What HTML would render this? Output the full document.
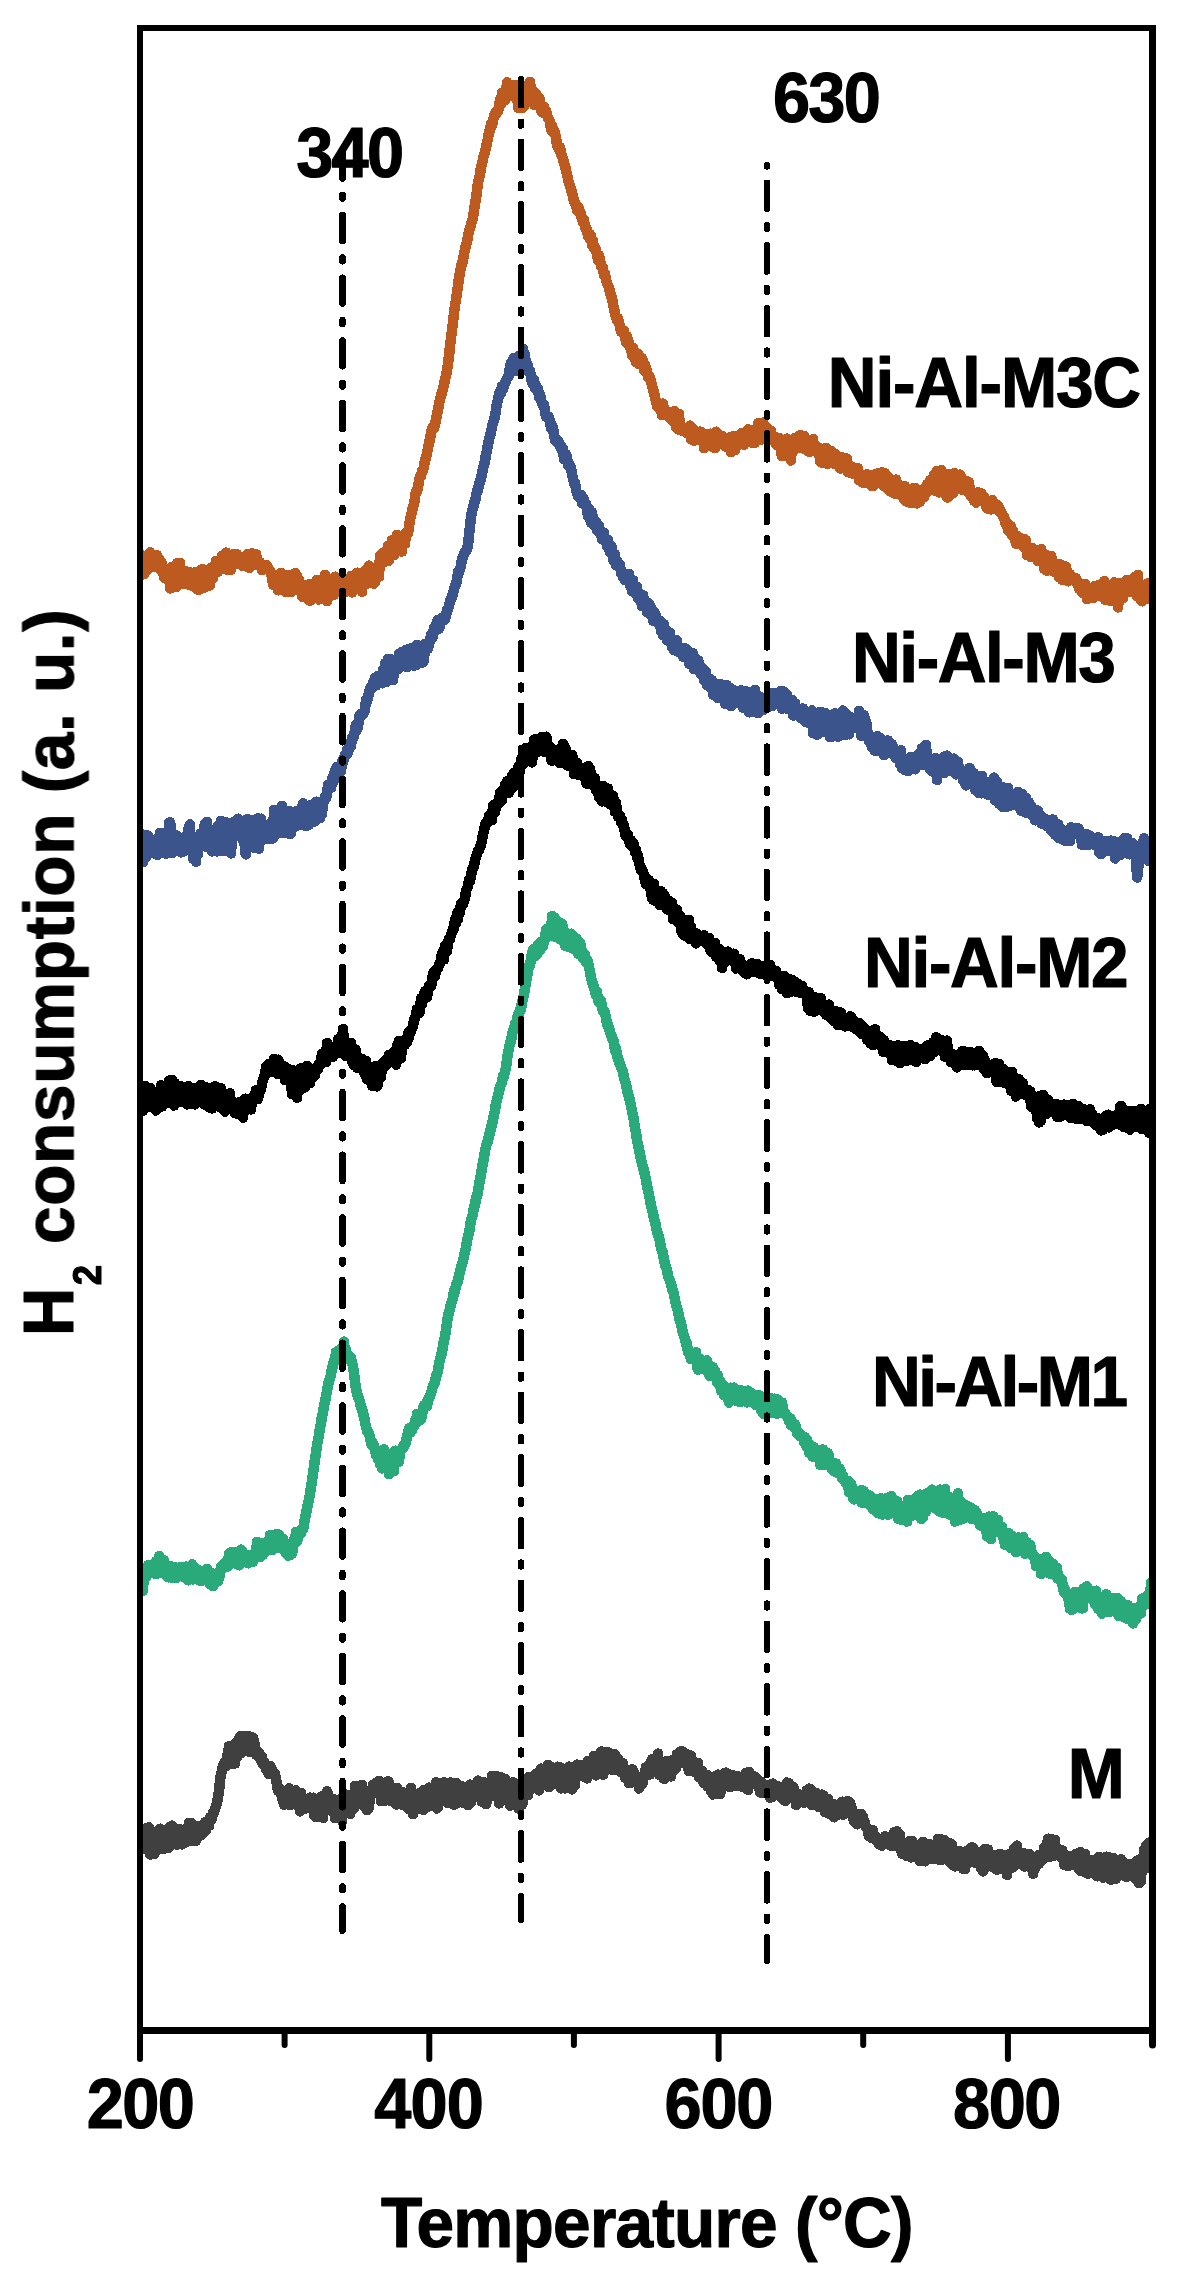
<!DOCTYPE html>
<html><head><meta charset="utf-8"><style>
html,body{margin:0;padding:0;background:#fff;width:1182px;height:2288px;overflow:hidden}
svg{display:block}
text{font-family:"Liberation Sans",sans-serif;font-weight:bold;fill:#000;stroke:#000;stroke-width:1.2px;stroke-linejoin:round}
</style></head><body>
<svg width="1182" height="2288" viewBox="0 0 1182 2288">
<defs><clipPath id="pc"><rect x="143" y="31" width="1006" height="1996"/></clipPath></defs>

<g clip-path="url(#pc)" fill="none" stroke-linejoin="round" stroke-linecap="round" shape-rendering="crispEdges">
<path d="M141 564.3 L142 574.7 L143 555.6 L144 574.1 L145 559.5 L146 561.9 L147 570.4 L148 561.0 L149 563.7 L150 552.4 L151 567.2 L152 562.4 L153 557.9 L154 567.1 L155 557.5 L156 560.8 L157 555.3 L158 561.3 L159 558.6 L160 560.8 L161 570.5 L162 563.5 L163 568.0 L164 577.5 L165 578.5 L166 576.1 L167 574.4 L168 570.5 L169 568.7 L170 588.5 L171 577.7 L172 566.9 L173 580.3 L174 584.1 L175 579.4 L176 587.1 L177 563.4 L178 576.1 L179 574.0 L180 563.2 L181 578.8 L182 584.2 L183 577.9 L184 570.5 L185 584.2 L186 577.4 L187 577.9 L188 583.3 L189 571.8 L190 585.2 L191 583.0 L192 585.5 L193 573.9 L194 586.7 L195 574.3 L196 572.0 L197 589.1 L198 589.5 L199 590.0 L200 580.8 L201 575.9 L202 569.1 L203 584.0 L204 585.3 L205 587.5 L206 573.4 L207 571.2 L208 580.6 L209 583.6 L210 585.4 L211 567.6 L212 572.8 L213 578.3 L214 569.1 L215 570.3 L216 560.8 L217 569.1 L218 571.8 L219 569.3 L220 569.5 L221 564.7 L222 555.8 L223 566.5 L224 554.7 L225 568.6 L226 552.6 L227 569.6 L228 556.2 L229 561.4 L230 560.6 L231 569.7 L232 557.8 L233 563.0 L234 553.8 L235 559.1 L236 561.6 L237 554.4 L238 563.7 L239 557.7 L240 563.8 L241 561.8 L242 557.1 L243 566.1 L244 561.3 L245 564.8 L246 555.9 L247 559.9 L248 553.9 L249 567.9 L250 555.5 L251 556.1 L252 553.3 L253 556.3 L254 565.2 L255 564.4 L256 554.2 L257 559.1 L258 560.3 L259 565.4 L260 562.1 L261 565.2 L262 570.1 L263 569.2 L264 565.0 L265 567.4 L266 567.6 L267 565.5 L268 567.8 L269 569.7 L270 571.1 L271 572.2 L272 577.2 L273 584.7 L274 582.9 L275 584.5 L276 585.1 L277 582.8 L278 590.3 L279 586.1 L280 582.4 L281 572.8 L282 583.0 L283 576.5 L284 574.6 L285 584.5 L286 592.0 L287 579.1 L288 591.0 L289 584.2 L290 574.8 L291 592.1 L292 579.0 L293 576.3 L294 587.2 L295 573.1 L296 585.6 L297 576.3 L298 581.2 L299 579.6 L300 591.5 L301 584.7 L302 596.6 L303 590.8 L304 592.8 L305 589.6 L306 585.5 L307 587.7 L308 599.4 L309 584.2 L310 600.8 L311 596.2 L312 588.1 L313 593.8 L314 588.5 L315 588.3 L316 590.5 L317 579.8 L318 589.5 L319 599.5 L320 583.9 L321 594.1 L322 586.7 L323 580.9 L324 597.8 L325 575.0 L326 582.1 L327 601.0 L328 580.3 L329 597.2 L330 590.1 L331 595.8 L332 590.9 L333 584.1 L334 594.6 L335 576.7 L336 587.4 L337 586.0 L338 588.6 L339 581.3 L340 583.3 L341 590.0 L342 586.1 L343 593.0 L344 588.8 L345 592.5 L346 589.6 L347 586.7 L348 581.0 L349 589.1 L350 579.7 L351 576.1 L352 592.5 L353 584.3 L354 588.9 L355 583.8 L356 585.4 L357 572.7 L358 575.7 L359 586.2 L360 583.6 L361 573.6 L362 591.7 L363 572.3 L364 580.3 L365 570.8 L366 584.2 L367 572.7 L368 568.5 L369 565.7 L370 568.1 L371 567.8 L372 575.4 L373 572.4 L374 583.7 L375 582.5 L376 577.6 L377 573.6 L378 576.3 L379 576.9 L380 555.6 L381 556.4 L382 560.1 L383 553.0 L384 562.4 L385 553.7 L386 552.4 L387 551.7 L388 546.0 L389 560.5 L390 557.4 L391 555.5 L392 540.1 L393 549.2 L394 554.9 L395 540.4 L396 545.4 L397 535.0 L398 535.9 L399 538.8 L400 543.1 L401 543.6 L402 551.5 L403 539.3 L404 534.4 L405 543.8 L406 533.9 L407 531.5 L408 533.0 L409 526.8 L410 520.2 L411 514.9 L412 511.5 L413 506.5 L414 504.2 L415 497.4 L416 491.4 L417 491.9 L418 486.8 L419 480.4 L420 477.2 L421 476.3 L422 470.9 L423 470.5 L424 466.6 L425 459.4 L426 458.1 L427 452.9 L428 448.5 L429 442.9 L430 439.2 L431 433.0 L432 429.2 L433 426.5 L434 428.7 L435 423.2 L436 420.8 L437 413.4 L438 410.9 L439 403.2 L440 399.2 L441 395.5 L442 392.7 L443 388.8 L444 384.5 L445 379.9 L446 375.5 L447 371.0 L448 363.4 L449 356.0 L450 346.0 L451 338.0 L452 330.1 L453 321.9 L454 313.1 L455 305.7 L456 299.5 L457 292.1 L458 285.4 L459 277.9 L460 272.2 L461 267.5 L462 262.4 L463 261.0 L464 253.0 L465 250.2 L466 244.6 L467 242.7 L468 235.9 L469 231.9 L470 228.0 L471 224.6 L472 221.2 L473 217.2 L474 210.4 L475 204.3 L476 198.5 L477 191.0 L478 182.6 L479 178.8 L480 174.0 L481 167.3 L482 164.5 L483 158.7 L484 154.7 L485 151.6 L486 147.4 L487 142.6 L488 138.1 L489 131.9 L490 130.7 L491 124.2 L492 125.9 L493 120.5 L494 116.4 L495 113.1 L496 114.2 L497 111.1 L498 111.2 L499 107.4 L500 99.7 L501 104.4 L502 93.0 L503 100.2 L504 99.1 L505 100.4 L506 95.0 L507 82.5 L508 88.6 L509 88.4 L510 94.0 L511 87.8 L512 96.2 L513 84.9 L514 89.4 L515 94.7 L516 92.6 L517 85.6 L518 107.9 L519 101.5 L520 105.8 L521 93.2 L522 108.2 L523 103.6 L524 106.4 L525 85.8 L526 91.8 L527 89.0 L528 95.1 L529 85.5 L530 82.0 L531 92.1 L532 96.3 L533 91.0 L534 104.7 L535 93.9 L536 93.5 L537 104.0 L538 99.5 L539 97.8 L540 99.6 L541 110.8 L542 112.3 L543 109.6 L544 106.8 L545 113.8 L546 110.4 L547 113.9 L548 118.5 L549 119.6 L550 121.8 L551 129.8 L552 125.7 L553 132.1 L554 130.2 L555 133.3 L556 136.9 L557 145.6 L558 146.2 L559 149.9 L560 147.0 L561 154.1 L562 155.6 L563 158.7 L564 163.6 L565 165.4 L566 170.6 L567 173.8 L568 178.8 L569 183.5 L570 185.2 L571 189.0 L572 192.8 L573 196.1 L574 201.2 L575 202.8 L576 204.9 L577 210.0 L578 207.0 L579 208.6 L580 213.5 L581 213.5 L582 219.6 L583 222.0 L584 220.0 L585 227.8 L586 228.4 L587 229.3 L588 236.1 L589 237.8 L590 234.2 L591 236.1 L592 245.2 L593 241.0 L594 248.6 L595 247.3 L596 250.2 L597 254.3 L598 259.8 L599 255.2 L600 259.1 L601 266.0 L602 266.2 L603 268.1 L604 275.5 L605 273.5 L606 279.2 L607 283.5 L608 285.3 L609 288.1 L610 291.6 L611 295.9 L612 297.8 L613 303.8 L614 308.9 L615 313.3 L616 316.9 L617 320.1 L618 318.2 L619 322.6 L620 325.8 L621 331.7 L622 330.3 L623 331.2 L624 331.0 L625 335.6 L626 342.5 L627 336.5 L628 339.7 L629 343.0 L630 347.3 L631 346.9 L632 355.1 L633 348.0 L634 354.2 L635 358.7 L636 362.3 L637 362.9 L638 353.7 L639 364.2 L640 363.8 L641 361.6 L642 358.0 L643 361.5 L644 370.1 L645 364.6 L646 369.1 L647 370.8 L648 377.3 L649 376.5 L650 377.2 L651 381.7 L652 384.6 L653 390.4 L654 391.9 L655 398.0 L656 400.4 L657 406.1 L658 407.0 L659 405.0 L660 407.0 L661 407.7 L662 415.1 L663 403.6 L664 409.2 L665 411.9 L666 410.8 L667 414.5 L668 413.5 L669 412.7 L670 418.4 L671 412.6 L672 418.4 L673 421.3 L674 411.1 L675 415.4 L676 427.3 L677 428.4 L678 429.4 L679 414.1 L680 427.9 L681 430.4 L682 430.6 L683 428.6 L684 428.8 L685 430.3 L686 429.1 L687 433.0 L688 429.9 L689 426.7 L690 425.6 L691 439.0 L692 437.7 L693 429.1 L694 440.8 L695 432.5 L696 439.2 L697 434.8 L698 432.9 L699 432.9 L700 431.6 L701 432.1 L702 432.5 L703 433.2 L704 448.3 L705 442.1 L706 434.2 L707 442.0 L708 441.9 L709 440.4 L710 433.7 L711 437.8 L712 446.8 L713 435.5 L714 438.0 L715 448.0 L716 431.7 L717 442.9 L718 437.6 L719 443.8 L720 435.3 L721 438.9 L722 435.9 L723 444.5 L724 445.0 L725 440.8 L726 446.9 L727 443.6 L728 446.1 L729 448.2 L730 437.4 L731 452.1 L732 440.5 L733 443.1 L734 436.0 L735 450.0 L736 439.4 L737 446.0 L738 436.8 L739 438.8 L740 438.9 L741 436.2 L742 433.0 L743 442.7 L744 444.8 L745 434.1 L746 432.4 L747 434.5 L748 429.4 L749 438.4 L750 432.9 L751 436.0 L752 442.5 L753 441.5 L754 442.5 L755 442.5 L756 435.1 L757 433.1 L758 423.3 L759 424.5 L760 432.9 L761 439.5 L762 431.0 L763 422.6 L764 426.9 L765 437.6 L766 426.7 L767 427.9 L768 430.0 L769 436.0 L770 440.0 L771 430.8 L772 437.1 L773 436.9 L774 436.8 L775 440.0 L776 444.6 L777 437.7 L778 443.1 L779 437.9 L780 445.5 L781 451.3 L782 456.2 L783 446.3 L784 442.7 L785 449.3 L786 444.7 L787 438.6 L788 448.9 L789 456.2 L790 458.7 L791 460.5 L792 444.9 L793 441.9 L794 438.5 L795 443.6 L796 448.8 L797 437.6 L798 447.2 L799 444.1 L800 435.1 L801 442.6 L802 446.1 L803 448.3 L804 436.0 L805 447.3 L806 447.2 L807 439.5 L808 440.9 L809 451.9 L810 443.0 L811 442.0 L812 450.5 L813 439.1 L814 446.8 L815 444.3 L816 449.2 L817 451.3 L818 453.0 L819 447.6 L820 461.0 L821 459.8 L822 462.7 L823 450.1 L824 457.9 L825 450.8 L826 447.8 L827 457.1 L828 464.0 L829 461.1 L830 451.0 L831 450.9 L832 461.5 L833 460.8 L834 463.7 L835 453.6 L836 464.4 L837 459.3 L838 458.1 L839 459.5 L840 468.2 L841 468.5 L842 457.5 L843 461.1 L844 467.3 L845 458.0 L846 458.4 L847 459.1 L848 472.2 L849 464.8 L850 465.3 L851 473.1 L852 466.9 L853 473.8 L854 469.2 L855 468.9 L856 471.0 L857 468.5 L858 468.1 L859 480.1 L860 480.8 L861 476.0 L862 479.8 L863 482.8 L864 477.3 L865 481.9 L866 482.8 L867 474.3 L868 475.1 L869 483.9 L870 483.5 L871 475.7 L872 486.1 L873 485.9 L874 478.0 L875 478.1 L876 473.7 L877 480.0 L878 473.5 L879 481.8 L880 483.5 L881 482.6 L882 472.3 L883 483.5 L884 486.3 L885 473.5 L886 483.0 L887 487.6 L888 476.6 L889 490.0 L890 491.4 L891 487.7 L892 490.8 L893 481.9 L894 488.8 L895 493.8 L896 479.6 L897 493.3 L898 483.8 L899 494.3 L900 492.1 L901 495.4 L902 489.2 L903 490.8 L904 499.3 L905 486.2 L906 488.3 L907 501.9 L908 501.5 L909 489.8 L910 502.9 L911 491.9 L912 502.0 L913 502.4 L914 488.1 L915 487.9 L916 493.2 L917 503.4 L918 501.1 L919 494.3 L920 501.7 L921 492.7 L922 492.4 L923 489.3 L924 497.0 L925 493.4 L926 488.0 L927 484.2 L928 491.4 L929 483.6 L930 480.2 L931 482.5 L932 486.7 L933 487.3 L934 474.4 L935 490.7 L936 485.0 L937 470.9 L938 488.9 L939 492.3 L940 489.3 L941 470.1 L942 481.7 L943 485.2 L944 493.3 L945 484.6 L946 474.2 L947 496.9 L948 497.5 L949 485.0 L950 474.2 L951 492.4 L952 489.3 L953 493.4 L954 473.1 L955 481.3 L956 478.2 L957 475.1 L958 486.2 L959 479.5 L960 474.6 L961 477.0 L962 489.6 L963 486.9 L964 480.9 L965 490.3 L966 481.1 L967 491.7 L968 492.1 L969 482.4 L970 491.6 L971 495.9 L972 497.3 L973 497.5 L974 500.8 L975 499.8 L976 502.6 L977 496.8 L978 492.2 L979 494.5 L980 496.4 L981 493.1 L982 494.4 L983 501.0 L984 497.3 L985 498.2 L986 506.0 L987 508.2 L988 508.7 L989 501.5 L990 507.0 L991 509.4 L992 500.1 L993 501.5 L994 507.9 L995 504.0 L996 504.2 L997 507.3 L998 505.3 L999 511.0 L1000 509.1 L1001 512.6 L1002 514.1 L1003 516.8 L1004 516.6 L1005 521.2 L1006 524.7 L1007 523.1 L1008 530.2 L1009 531.3 L1010 527.6 L1011 526.3 L1012 535.3 L1013 531.0 L1014 533.3 L1015 537.3 L1016 543.7 L1017 536.1 L1018 539.3 L1019 542.5 L1020 544.3 L1021 538.4 L1022 544.9 L1023 545.0 L1024 547.6 L1025 539.5 L1026 540.2 L1027 555.1 L1028 553.1 L1029 553.8 L1030 556.2 L1031 557.3 L1032 548.1 L1033 555.0 L1034 553.8 L1035 553.3 L1036 556.2 L1037 551.1 L1038 561.2 L1039 554.5 L1040 550.8 L1041 549.1 L1042 561.2 L1043 554.2 L1044 568.6 L1045 554.4 L1046 557.1 L1047 570.7 L1048 562.0 L1049 570.2 L1050 567.9 L1051 556.1 L1052 558.7 L1053 562.6 L1054 571.9 L1055 564.2 L1056 567.6 L1057 569.3 L1058 567.8 L1059 577.1 L1060 564.2 L1061 567.6 L1062 579.8 L1063 575.5 L1064 573.4 L1065 570.7 L1066 566.5 L1067 572.5 L1068 581.3 L1069 574.7 L1070 574.3 L1071 579.5 L1072 578.2 L1073 579.9 L1074 580.5 L1075 579.5 L1076 578.4 L1077 583.2 L1078 582.7 L1079 588.7 L1080 583.3 L1081 587.3 L1082 592.7 L1083 588.4 L1084 591.1 L1085 583.8 L1086 587.0 L1087 599.1 L1088 594.2 L1089 588.9 L1090 591.9 L1091 597.1 L1092 597.4 L1093 598.2 L1094 587.1 L1095 585.9 L1096 594.2 L1097 591.8 L1098 592.5 L1099 585.0 L1100 587.1 L1101 596.2 L1102 587.8 L1103 596.0 L1104 581.2 L1105 599.8 L1106 584.5 L1107 589.9 L1108 598.7 L1109 585.4 L1110 584.9 L1111 601.2 L1112 600.3 L1113 592.9 L1114 582.5 L1115 596.3 L1116 587.6 L1117 586.7 L1118 607.5 L1119 598.3 L1120 592.8 L1121 582.8 L1122 589.1 L1123 598.2 L1124 584.8 L1125 583.8 L1126 588.9 L1127 579.9 L1128 586.9 L1129 592.2 L1130 580.2 L1131 584.9 L1132 587.5 L1133 582.3 L1134 579.0 L1135 576.6 L1136 587.6 L1137 596.4 L1138 575.0 L1139 595.6 L1140 598.9 L1141 589.4 L1142 601.3 L1143 595.6 L1144 592.2 L1145 590.4 L1146 590.8 L1147 598.0 L1148 583.4 L1149 598.9 L1150 591.7 L1151 597.3" stroke="#BD5A1F" stroke-width="10.5"/>
<path d="M141 841.0 L142 842.3 L143 861.8 L144 834.7 L145 853.3 L146 857.4 L147 839.4 L148 835.6 L149 842.5 L150 853.0 L151 850.0 L152 839.9 L153 846.0 L154 850.8 L155 844.2 L156 848.0 L157 854.9 L158 847.3 L159 839.2 L160 832.8 L161 836.2 L162 840.5 L163 851.8 L164 848.3 L165 832.9 L166 853.6 L167 837.4 L168 845.5 L169 822.9 L170 822.3 L171 825.9 L172 853.3 L173 845.1 L174 851.5 L175 843.8 L176 835.3 L177 839.5 L178 842.3 L179 851.3 L180 837.7 L181 852.5 L182 843.9 L183 851.6 L184 840.8 L185 848.0 L186 835.8 L187 842.8 L188 831.5 L189 827.0 L190 824.5 L191 851.0 L192 841.6 L193 858.8 L194 856.5 L195 839.6 L196 861.7 L197 847.6 L198 853.8 L199 841.3 L200 834.4 L201 833.3 L202 833.0 L203 843.9 L204 828.4 L205 823.7 L206 846.9 L207 821.8 L208 832.9 L209 834.1 L210 839.2 L211 834.7 L212 851.5 L213 844.2 L214 837.5 L215 839.1 L216 835.0 L217 851.4 L218 825.5 L219 841.6 L220 837.4 L221 820.9 L222 829.9 L223 851.2 L224 847.2 L225 822.3 L226 832.0 L227 822.6 L228 850.2 L229 826.0 L230 824.1 L231 853.4 L232 835.7 L233 831.0 L234 821.9 L235 832.0 L236 830.9 L237 835.8 L238 818.7 L239 823.3 L240 825.3 L241 833.4 L242 828.7 L243 840.1 L244 828.1 L245 851.9 L246 854.3 L247 819.2 L248 825.1 L249 838.6 L250 846.1 L251 819.7 L252 824.0 L253 833.5 L254 840.6 L255 848.2 L256 846.5 L257 843.6 L258 818.4 L259 848.6 L260 836.2 L261 818.7 L262 823.8 L263 834.9 L264 827.0 L265 828.4 L266 838.6 L267 838.4 L268 829.4 L269 835.7 L270 823.7 L271 839.3 L272 827.9 L273 837.9 L274 810.0 L275 834.7 L276 824.5 L277 828.9 L278 812.6 L279 823.2 L280 815.0 L281 809.2 L282 805.9 L283 833.0 L284 825.8 L285 812.0 L286 813.8 L287 820.0 L288 830.1 L289 810.9 L290 834.3 L291 833.7 L292 815.3 L293 825.8 L294 818.7 L295 826.8 L296 811.3 L297 819.6 L298 821.2 L299 820.8 L300 821.2 L301 825.2 L302 807.2 L303 803.4 L304 809.7 L305 814.7 L306 826.1 L307 818.3 L308 818.7 L309 824.7 L310 805.3 L311 805.1 L312 809.1 L313 805.9 L314 814.2 L315 821.4 L316 801.7 L317 810.5 L318 814.1 L319 809.5 L320 818.1 L321 813.3 L322 814.2 L323 803.1 L324 801.6 L325 796.5 L326 798.1 L327 795.3 L328 784.8 L329 789.5 L330 787.2 L331 787.9 L332 778.2 L333 782.7 L334 774.3 L335 770.3 L336 778.7 L337 766.8 L338 774.7 L339 767.0 L340 768.0 L341 771.4 L342 761.2 L343 762.1 L344 758.8 L345 755.0 L346 755.6 L347 750.2 L348 753.0 L349 748.3 L350 742.4 L351 746.0 L352 737.8 L353 738.3 L354 736.5 L355 729.7 L356 724.8 L357 729.9 L358 727.5 L359 717.6 L360 714.5 L361 714.3 L362 713.2 L363 714.5 L364 711.9 L365 710.0 L366 699.5 L367 701.4 L368 697.3 L369 692.6 L370 688.2 L371 687.6 L372 688.4 L373 682.5 L374 681.5 L375 678.0 L376 685.5 L377 681.7 L378 675.7 L379 678.8 L380 675.3 L381 678.5 L382 683.3 L383 669.6 L384 675.3 L385 663.3 L386 682.2 L387 672.9 L388 658.9 L389 661.9 L390 659.1 L391 660.0 L392 664.3 L393 680.1 L394 669.4 L395 664.7 L396 667.3 L397 662.3 L398 669.4 L399 653.6 L400 656.2 L401 655.7 L402 652.0 L403 666.1 L404 652.1 L405 655.5 L406 649.7 L407 667.2 L408 657.7 L409 664.6 L410 653.6 L411 648.3 L412 654.7 L413 664.9 L414 665.7 L415 653.1 L416 665.2 L417 644.9 L418 656.4 L419 649.5 L420 653.7 L421 648.2 L422 662.7 L423 649.1 L424 660.5 L425 644.0 L426 648.2 L427 646.9 L428 648.9 L429 642.4 L430 642.0 L431 634.9 L432 634.9 L433 637.0 L434 627.4 L435 629.5 L436 624.8 L437 622.1 L438 619.9 L439 628.7 L440 625.4 L441 619.5 L442 618.0 L443 620.9 L444 617.3 L445 619.0 L446 616.7 L447 609.9 L448 609.2 L449 605.6 L450 601.0 L451 599.0 L452 597.3 L453 592.8 L454 589.7 L455 585.3 L456 584.3 L457 579.7 L458 572.4 L459 572.4 L460 569.4 L461 565.4 L462 559.3 L463 556.9 L464 554.2 L465 551.6 L466 551.4 L467 549.8 L468 544.8 L469 535.6 L470 525.8 L471 517.4 L472 511.1 L473 508.4 L474 503.2 L475 501.6 L476 496.0 L477 491.2 L478 490.2 L479 483.5 L480 483.0 L481 477.2 L482 474.7 L483 467.7 L484 465.3 L485 461.0 L486 454.2 L487 450.8 L488 444.2 L489 440.0 L490 435.8 L491 432.5 L492 426.6 L493 422.6 L494 420.5 L495 415.8 L496 409.7 L497 403.3 L498 399.8 L499 394.8 L500 391.2 L501 393.0 L502 386.1 L503 389.3 L504 385.6 L505 383.4 L506 380.9 L507 378.6 L508 377.1 L509 375.3 L510 366.0 L511 362.8 L512 371.2 L513 359.4 L514 358.1 L515 367.8 L516 370.6 L517 367.8 L518 360.0 L519 355.9 L520 370.6 L521 363.9 L522 361.0 L523 348.7 L524 354.6 L525 354.6 L526 368.6 L527 363.2 L528 365.4 L529 372.1 L530 371.0 L531 376.6 L532 382.7 L533 383.9 L534 379.5 L535 388.2 L536 385.1 L537 388.4 L538 388.9 L539 397.1 L540 394.1 L541 400.3 L542 402.3 L543 405.7 L544 404.5 L545 410.5 L546 416.7 L547 416.3 L548 416.2 L549 417.7 L550 422.5 L551 428.4 L552 425.1 L553 427.8 L554 435.5 L555 440.0 L556 438.3 L557 442.4 L558 440.8 L559 442.9 L560 446.9 L561 445.9 L562 450.3 L563 448.7 L564 459.1 L565 457.9 L566 454.2 L567 457.4 L568 465.2 L569 463.8 L570 465.6 L571 467.3 L572 474.8 L573 477.8 L574 483.1 L575 482.5 L576 489.6 L577 493.2 L578 495.8 L579 497.6 L580 497.0 L581 494.8 L582 503.0 L583 497.6 L584 499.9 L585 505.4 L586 503.4 L587 509.2 L588 515.9 L589 509.0 L590 518.6 L591 522.8 L592 512.4 L593 519.0 L594 524.3 L595 526.2 L596 522.1 L597 530.5 L598 526.5 L599 526.0 L600 531.7 L601 534.5 L602 539.0 L603 538.5 L604 533.1 L605 540.8 L606 539.8 L607 545.9 L608 540.0 L609 549.0 L610 552.4 L611 545.6 L612 547.2 L613 559.1 L614 561.0 L615 554.4 L616 565.1 L617 560.6 L618 563.6 L619 564.7 L620 564.6 L621 573.2 L622 571.3 L623 577.1 L624 574.6 L625 580.2 L626 576.3 L627 577.3 L628 580.1 L629 574.0 L630 585.8 L631 578.7 L632 591.2 L633 580.3 L634 590.9 L635 593.3 L636 591.6 L637 586.8 L638 598.2 L639 592.7 L640 593.7 L641 600.8 L642 606.1 L643 595.2 L644 601.4 L645 606.1 L646 601.9 L647 612.4 L648 609.3 L649 603.4 L650 606.0 L651 607.3 L652 613.1 L653 620.7 L654 611.5 L655 613.5 L656 615.9 L657 622.2 L658 621.8 L659 623.1 L660 620.8 L661 631.6 L662 628.2 L663 635.2 L664 624.3 L665 631.9 L666 631.7 L667 640.3 L668 639.1 L669 637.5 L670 632.7 L671 642.3 L672 647.0 L673 646.0 L674 650.3 L675 644.8 L676 641.0 L677 640.3 L678 651.3 L679 652.4 L680 650.2 L681 653.7 L682 649.5 L683 656.7 L684 655.0 L685 648.2 L686 655.0 L687 657.2 L688 650.7 L689 663.7 L690 662.6 L691 653.1 L692 655.5 L693 653.2 L694 669.0 L695 658.3 L696 669.5 L697 665.8 L698 660.2 L699 663.8 L700 665.8 L701 674.2 L702 669.9 L703 668.3 L704 680.4 L705 676.3 L706 672.1 L707 685.4 L708 683.2 L709 681.7 L710 679.0 L711 688.2 L712 680.4 L713 694.8 L714 692.8 L715 693.1 L716 695.0 L717 697.6 L718 690.5 L719 698.1 L720 683.9 L721 697.0 L722 698.6 L723 687.0 L724 685.0 L725 703.8 L726 703.7 L727 685.4 L728 697.1 L729 687.3 L730 688.0 L731 706.3 L732 699.8 L733 702.4 L734 690.4 L735 703.3 L736 700.8 L737 692.6 L738 696.8 L739 690.8 L740 700.0 L741 690.4 L742 697.4 L743 707.8 L744 703.6 L745 702.7 L746 691.3 L747 708.8 L748 704.2 L749 712.3 L750 712.0 L751 712.1 L752 702.4 L753 708.2 L754 691.5 L755 689.9 L756 708.8 L757 706.0 L758 713.2 L759 696.4 L760 701.4 L761 709.1 L762 704.3 L763 710.0 L764 698.3 L765 708.3 L766 707.8 L767 707.7 L768 696.1 L769 706.1 L770 693.0 L771 698.4 L772 705.9 L773 698.9 L774 697.9 L775 693.2 L776 696.5 L777 696.2 L778 700.4 L779 697.8 L780 693.3 L781 690.8 L782 708.6 L783 700.9 L784 691.6 L785 695.6 L786 702.8 L787 695.1 L788 709.1 L789 703.3 L790 707.0 L791 708.0 L792 700.2 L793 715.5 L794 715.4 L795 703.3 L796 712.6 L797 712.8 L798 709.1 L799 711.3 L800 709.6 L801 718.5 L802 714.9 L803 708.5 L804 711.9 L805 710.8 L806 722.2 L807 721.0 L808 717.7 L809 721.7 L810 723.9 L811 714.3 L812 710.5 L813 733.0 L814 713.9 L815 715.4 L816 727.4 L817 734.8 L818 712.6 L819 720.0 L820 732.2 L821 711.8 L822 716.3 L823 726.2 L824 732.1 L825 712.8 L826 721.3 L827 726.1 L828 725.0 L829 724.8 L830 737.2 L831 737.0 L832 716.2 L833 717.4 L834 721.3 L835 713.2 L836 714.3 L837 725.5 L838 736.7 L839 718.0 L840 715.4 L841 726.6 L842 718.1 L843 710.4 L844 712.8 L845 735.0 L846 713.8 L847 729.4 L848 723.4 L849 734.3 L850 726.8 L851 718.2 L852 717.6 L853 718.4 L854 718.2 L855 718.5 L856 719.6 L857 727.9 L858 725.2 L859 710.9 L860 720.7 L861 735.6 L862 734.9 L863 717.5 L864 715.2 L865 720.4 L866 721.5 L867 726.9 L868 737.7 L869 741.0 L870 739.5 L871 743.2 L872 747.1 L873 748.2 L874 749.1 L875 750.9 L876 747.7 L877 736.1 L878 750.8 L879 750.5 L880 737.5 L881 738.6 L882 750.2 L883 744.1 L884 755.0 L885 742.3 L886 752.0 L887 751.3 L888 740.5 L889 745.1 L890 747.6 L891 747.4 L892 744.0 L893 747.9 L894 754.9 L895 749.5 L896 758.5 L897 754.9 L898 756.4 L899 752.0 L900 764.3 L901 750.5 L902 768.5 L903 761.9 L904 769.5 L905 762.2 L906 758.8 L907 759.7 L908 771.0 L909 763.4 L910 761.3 L911 757.0 L912 757.2 L913 762.4 L914 763.1 L915 769.3 L916 756.2 L917 761.3 L918 754.5 L919 755.4 L920 758.5 L921 765.1 L922 748.2 L923 747.6 L924 760.4 L925 755.5 L926 744.9 L927 760.1 L928 766.6 L929 763.4 L930 769.5 L931 766.8 L932 761.1 L933 771.8 L934 768.5 L935 758.1 L936 764.7 L937 779.9 L938 772.0 L939 764.3 L940 772.6 L941 771.5 L942 758.3 L943 765.2 L944 772.9 L945 756.2 L946 765.9 L947 755.6 L948 759.0 L949 770.2 L950 760.8 L951 771.3 L952 769.4 L953 767.8 L954 758.6 L955 765.6 L956 774.5 L957 770.8 L958 761.7 L959 770.6 L960 771.0 L961 772.4 L962 771.9 L963 780.4 L964 775.7 L965 782.8 L966 785.4 L967 784.9 L968 783.0 L969 768.4 L970 768.5 L971 772.5 L972 780.0 L973 776.2 L974 773.3 L975 789.8 L976 780.3 L977 776.2 L978 782.9 L979 793.1 L980 788.4 L981 793.3 L982 776.0 L983 790.5 L984 781.6 L985 782.5 L986 785.2 L987 785.8 L988 794.7 L989 782.3 L990 787.0 L991 786.7 L992 792.4 L993 791.1 L994 777.6 L995 800.2 L996 795.0 L997 782.1 L998 792.0 L999 803.6 L1000 803.7 L1001 791.1 L1002 787.0 L1003 807.3 L1004 801.8 L1005 800.2 L1006 793.5 L1007 806.6 L1008 788.2 L1009 806.0 L1010 805.4 L1011 798.1 L1012 794.3 L1013 802.8 L1014 795.5 L1015 796.5 L1016 793.4 L1017 805.8 L1018 791.8 L1019 799.8 L1020 799.2 L1021 810.8 L1022 793.9 L1023 803.6 L1024 797.9 L1025 812.3 L1026 798.2 L1027 813.2 L1028 809.4 L1029 802.4 L1030 807.2 L1031 805.6 L1032 810.0 L1033 816.5 L1034 811.8 L1035 820.3 L1036 819.8 L1037 810.7 L1038 810.6 L1039 818.8 L1040 815.5 L1041 815.3 L1042 823.9 L1043 820.6 L1044 818.0 L1045 821.8 L1046 822.4 L1047 825.9 L1048 822.3 L1049 824.0 L1050 820.3 L1051 829.8 L1052 831.6 L1053 819.5 L1054 830.9 L1055 834.9 L1056 833.9 L1057 833.6 L1058 824.3 L1059 838.3 L1060 827.7 L1061 837.0 L1062 835.9 L1063 833.1 L1064 840.4 L1065 840.7 L1066 830.8 L1067 831.6 L1068 840.8 L1069 831.7 L1070 840.9 L1071 827.3 L1072 828.1 L1073 831.3 L1074 829.9 L1075 833.4 L1076 828.7 L1077 827.9 L1078 832.8 L1079 828.9 L1080 832.6 L1081 834.0 L1082 844.9 L1083 835.1 L1084 838.7 L1085 845.1 L1086 836.7 L1087 834.2 L1088 839.7 L1089 844.6 L1090 836.0 L1091 844.2 L1092 840.6 L1093 842.1 L1094 844.7 L1095 842.4 L1096 838.4 L1097 839.8 L1098 837.2 L1099 852.0 L1100 848.6 L1101 854.1 L1102 843.5 L1103 848.3 L1104 848.9 L1105 841.2 L1106 849.5 L1107 850.8 L1108 847.7 L1109 846.2 L1110 844.0 L1111 840.7 L1112 851.8 L1113 843.3 L1114 841.0 L1115 858.5 L1116 856.0 L1117 845.7 L1118 847.3 L1119 842.2 L1120 855.2 L1121 843.3 L1122 851.8 L1123 850.2 L1124 838.5 L1125 838.7 L1126 845.3 L1127 838.3 L1128 853.5 L1129 854.3 L1130 848.1 L1131 843.5 L1132 842.8 L1133 843.3 L1134 849.7 L1135 847.2 L1136 854.2 L1137 877.5 L1138 872.8 L1139 854.4 L1140 854.8 L1141 852.5 L1142 846.3 L1143 843.7 L1144 838.3 L1145 854.9 L1146 845.5 L1147 859.7 L1148 844.7 L1149 861.2 L1150 854.7 L1151 848.0" stroke="#3B548B" stroke-width="10.5"/>
<path d="M141 1085.4 L142 1090.7 L143 1110.6 L144 1102.9 L145 1085.8 L146 1097.7 L147 1099.3 L148 1088.9 L149 1107.2 L150 1088.0 L151 1096.5 L152 1100.1 L153 1097.6 L154 1101.7 L155 1105.4 L156 1110.5 L157 1093.3 L158 1101.7 L159 1102.2 L160 1092.3 L161 1085.3 L162 1106.5 L163 1091.2 L164 1091.1 L165 1103.7 L166 1096.4 L167 1093.2 L168 1100.5 L169 1080.6 L170 1098.6 L171 1088.9 L172 1080.2 L173 1097.3 L174 1105.5 L175 1083.6 L176 1096.4 L177 1086.9 L178 1099.7 L179 1099.2 L180 1085.9 L181 1102.2 L182 1097.9 L183 1098.6 L184 1102.2 L185 1092.9 L186 1101.2 L187 1104.3 L188 1086.2 L189 1104.1 L190 1093.6 L191 1095.8 L192 1088.2 L193 1100.8 L194 1091.1 L195 1104.4 L196 1089.9 L197 1096.3 L198 1091.8 L199 1096.8 L200 1085.7 L201 1084.9 L202 1100.0 L203 1100.2 L204 1095.6 L205 1104.9 L206 1087.5 L207 1103.8 L208 1087.9 L209 1107.4 L210 1099.6 L211 1099.5 L212 1108.5 L213 1104.3 L214 1104.6 L215 1086.3 L216 1094.3 L217 1087.0 L218 1089.9 L219 1090.5 L220 1107.5 L221 1088.5 L222 1093.3 L223 1098.8 L224 1108.2 L225 1111.5 L226 1105.5 L227 1094.2 L228 1102.7 L229 1106.9 L230 1093.5 L231 1107.6 L232 1102.4 L233 1108.3 L234 1111.5 L235 1113.1 L236 1111.4 L237 1113.5 L238 1104.5 L239 1113.4 L240 1102.0 L241 1112.5 L242 1113.3 L243 1117.7 L244 1107.6 L245 1098.7 L246 1107.5 L247 1099.9 L248 1108.8 L249 1100.8 L250 1099.6 L251 1109.4 L252 1098.1 L253 1096.4 L254 1095.7 L255 1097.3 L256 1090.2 L257 1096.1 L258 1099.1 L259 1093.0 L260 1091.6 L261 1089.3 L262 1084.2 L263 1079.5 L264 1077.2 L265 1075.7 L266 1066.9 L267 1070.0 L268 1066.5 L269 1064.0 L270 1071.0 L271 1064.5 L272 1071.8 L273 1070.7 L274 1059.0 L275 1067.2 L276 1066.0 L277 1073.6 L278 1059.7 L279 1062.0 L280 1070.0 L281 1068.2 L282 1074.0 L283 1068.0 L284 1066.2 L285 1080.0 L286 1068.7 L287 1068.1 L288 1071.9 L289 1074.4 L290 1073.0 L291 1081.5 L292 1094.3 L293 1070.4 L294 1079.8 L295 1088.6 L296 1095.4 L297 1097.8 L298 1070.8 L299 1081.8 L300 1090.2 L301 1068.1 L302 1080.9 L303 1070.7 L304 1083.9 L305 1087.3 L306 1078.0 L307 1066.0 L308 1067.1 L309 1074.5 L310 1083.0 L311 1070.4 L312 1078.1 L313 1072.9 L314 1070.1 L315 1075.1 L316 1068.1 L317 1067.0 L318 1069.5 L319 1064.2 L320 1065.5 L321 1060.4 L322 1053.9 L323 1056.4 L324 1062.0 L325 1055.9 L326 1062.1 L327 1043.1 L328 1048.4 L329 1056.3 L330 1053.8 L331 1050.4 L332 1052.1 L333 1056.7 L334 1051.6 L335 1047.5 L336 1047.4 L337 1049.9 L338 1039.2 L339 1049.5 L340 1047.6 L341 1053.3 L342 1043.1 L343 1029.1 L344 1045.8 L345 1055.6 L346 1050.2 L347 1051.2 L348 1046.1 L349 1046.6 L350 1056.0 L351 1042.8 L352 1061.1 L353 1062.4 L354 1065.4 L355 1049.3 L356 1050.3 L357 1067.7 L358 1058.9 L359 1057.5 L360 1061.0 L361 1067.9 L362 1059.2 L363 1067.1 L364 1072.0 L365 1074.7 L366 1061.0 L367 1079.5 L368 1072.0 L369 1072.6 L370 1076.1 L371 1069.1 L372 1085.6 L373 1067.2 L374 1076.7 L375 1066.1 L376 1078.9 L377 1086.4 L378 1084.4 L379 1066.4 L380 1074.8 L381 1077.2 L382 1063.4 L383 1064.7 L384 1067.5 L385 1066.4 L386 1059.7 L387 1062.8 L388 1063.0 L389 1054.8 L390 1061.7 L391 1059.3 L392 1062.0 L393 1056.6 L394 1051.5 L395 1053.4 L396 1064.6 L397 1046.1 L398 1044.6 L399 1040.9 L400 1057.5 L401 1058.5 L402 1043.1 L403 1042.5 L404 1040.3 L405 1044.6 L406 1041.0 L407 1042.6 L408 1033.3 L409 1037.6 L410 1030.7 L411 1031.2 L412 1028.3 L413 1026.5 L414 1019.9 L415 1018.4 L416 1015.5 L417 1009.2 L418 1010.4 L419 1013.2 L420 1011.0 L421 998.2 L422 1004.0 L423 997.8 L424 993.4 L425 991.4 L426 997.4 L427 997.2 L428 989.8 L429 986.1 L430 985.3 L431 986.3 L432 982.9 L433 973.4 L434 972.3 L435 976.3 L436 969.9 L437 969.2 L438 968.2 L439 964.4 L440 963.6 L441 959.4 L442 953.5 L443 951.1 L444 959.5 L445 945.6 L446 951.7 L447 951.3 L448 942.6 L449 938.7 L450 938.8 L451 934.9 L452 932.2 L453 928.4 L454 928.8 L455 919.4 L456 923.5 L457 913.2 L458 919.0 L459 911.1 L460 912.4 L461 903.6 L462 905.0 L463 904.1 L464 900.6 L465 898.5 L466 890.6 L467 888.7 L468 886.6 L469 879.5 L470 881.1 L471 875.2 L472 870.7 L473 867.2 L474 866.6 L475 859.5 L476 857.4 L477 854.5 L478 850.9 L479 850.5 L480 846.4 L481 845.0 L482 840.3 L483 834.1 L484 830.5 L485 825.4 L486 822.8 L487 823.2 L488 822.5 L489 815.7 L490 814.4 L491 819.2 L492 820.1 L493 806.1 L494 804.5 L495 812.4 L496 807.0 L497 804.0 L498 804.2 L499 803.4 L500 792.5 L501 801.6 L502 799.9 L503 790.6 L504 789.9 L505 785.1 L506 789.6 L507 781.3 L508 786.6 L509 792.7 L510 784.0 L511 788.8 L512 775.8 L513 786.7 L514 772.6 L515 772.8 L516 778.7 L517 771.3 L518 767.5 L519 765.5 L520 771.0 L521 760.0 L522 757.4 L523 764.5 L524 760.4 L525 752.7 L526 747.9 L527 759.8 L528 758.3 L529 755.6 L530 752.0 L531 751.6 L532 762.4 L533 750.7 L534 739.8 L535 739.1 L536 750.1 L537 752.1 L538 748.7 L539 750.5 L540 738.6 L541 739.8 L542 736.8 L543 739.9 L544 737.5 L545 752.3 L546 736.7 L547 739.3 L548 750.2 L549 745.5 L550 746.6 L551 759.2 L552 760.8 L553 751.0 L554 750.4 L555 758.3 L556 760.1 L557 753.4 L558 759.0 L559 760.3 L560 763.2 L561 747.5 L562 758.2 L563 743.9 L564 745.7 L565 747.4 L566 750.5 L567 765.4 L568 758.5 L569 762.0 L570 762.0 L571 757.7 L572 754.9 L573 758.4 L574 774.2 L575 763.3 L576 765.8 L577 762.9 L578 774.7 L579 774.4 L580 767.4 L581 770.8 L582 768.7 L583 773.4 L584 774.3 L585 774.6 L586 782.3 L587 783.9 L588 766.1 L589 773.9 L590 768.8 L591 776.3 L592 784.7 L593 783.9 L594 783.5 L595 778.3 L596 790.4 L597 790.1 L598 788.0 L599 797.5 L600 786.0 L601 788.8 L602 801.5 L603 785.8 L604 787.9 L605 796.7 L606 801.9 L607 799.8 L608 788.5 L609 794.6 L610 804.3 L611 798.4 L612 797.0 L613 795.6 L614 801.4 L615 811.9 L616 802.8 L617 810.9 L618 816.9 L619 817.3 L620 816.0 L621 822.1 L622 819.7 L623 825.7 L624 825.5 L625 833.9 L626 835.9 L627 836.7 L628 834.3 L629 840.9 L630 844.7 L631 840.2 L632 843.9 L633 842.6 L634 844.7 L635 852.6 L636 849.8 L637 857.0 L638 856.0 L639 863.0 L640 866.4 L641 870.5 L642 869.3 L643 872.3 L644 875.3 L645 880.8 L646 884.3 L647 879.1 L648 882.9 L649 880.3 L650 883.8 L651 892.9 L652 897.8 L653 899.9 L654 884.0 L655 891.2 L656 901.2 L657 895.1 L658 893.0 L659 902.4 L660 905.0 L661 891.4 L662 899.7 L663 893.2 L664 894.8 L665 902.5 L666 898.3 L667 909.5 L668 902.6 L669 900.7 L670 909.6 L671 904.7 L672 902.9 L673 919.1 L674 907.7 L675 908.4 L676 915.0 L677 909.8 L678 922.5 L679 914.4 L680 915.6 L681 930.7 L682 925.8 L683 934.2 L684 935.4 L685 933.7 L686 919.9 L687 933.3 L688 920.8 L689 919.7 L690 939.1 L691 927.0 L692 937.4 L693 932.7 L694 938.9 L695 936.0 L696 943.4 L697 933.6 L698 941.5 L699 941.4 L700 937.9 L701 937.3 L702 937.0 L703 941.1 L704 935.4 L705 939.7 L706 943.5 L707 939.3 L708 938.7 L709 937.8 L710 949.5 L711 951.6 L712 951.8 L713 950.8 L714 950.1 L715 942.9 L716 956.8 L717 952.0 L718 956.8 L719 948.8 L720 960.9 L721 950.7 L722 967.9 L723 963.5 L724 959.7 L725 962.5 L726 953.6 L727 959.4 L728 951.6 L729 955.6 L730 956.0 L731 954.4 L732 958.6 L733 953.9 L734 953.7 L735 958.6 L736 968.5 L737 965.5 L738 962.0 L739 959.5 L740 959.1 L741 964.1 L742 968.3 L743 971.6 L744 966.5 L745 973.2 L746 973.1 L747 974.3 L748 966.5 L749 969.1 L750 964.6 L751 971.9 L752 963.3 L753 970.7 L754 965.9 L755 971.5 L756 966.7 L757 963.9 L758 971.3 L759 971.6 L760 973.7 L761 966.5 L762 972.9 L763 969.5 L764 965.9 L765 971.2 L766 975.1 L767 969.2 L768 975.4 L769 976.3 L770 964.9 L771 967.9 L772 969.3 L773 974.4 L774 974.0 L775 976.3 L776 970.9 L777 975.1 L778 974.3 L779 984.5 L780 984.5 L781 978.8 L782 989.3 L783 977.3 L784 976.0 L785 982.7 L786 988.2 L787 993.2 L788 986.4 L789 980.8 L790 988.2 L791 979.5 L792 991.5 L793 984.3 L794 981.4 L795 982.3 L796 991.2 L797 992.0 L798 983.6 L799 992.4 L800 991.5 L801 987.2 L802 986.0 L803 988.9 L804 993.9 L805 993.2 L806 994.3 L807 996.6 L808 1008.0 L809 992.4 L810 1010.8 L811 1001.3 L812 1007.5 L813 1003.0 L814 1011.7 L815 997.1 L816 998.9 L817 1003.7 L818 1004.0 L819 1001.5 L820 1001.4 L821 998.4 L822 1005.6 L823 1011.3 L824 1012.3 L825 1005.8 L826 1014.9 L827 1015.2 L828 1006.5 L829 1004.6 L830 1015.5 L831 1018.0 L832 1015.2 L833 1020.7 L834 1015.2 L835 1016.9 L836 1011.2 L837 1016.1 L838 1025.1 L839 1012.9 L840 1013.8 L841 1012.6 L842 1020.0 L843 1021.9 L844 1021.2 L845 1026.4 L846 1023.9 L847 1023.8 L848 1023.8 L849 1022.9 L850 1016.4 L851 1017.1 L852 1026.7 L853 1019.7 L854 1023.8 L855 1028.6 L856 1028.3 L857 1022.5 L858 1023.9 L859 1022.8 L860 1032.0 L861 1033.6 L862 1025.8 L863 1028.7 L864 1027.9 L865 1034.8 L866 1031.1 L867 1039.7 L868 1031.3 L869 1037.6 L870 1038.0 L871 1043.8 L872 1040.6 L873 1045.0 L874 1039.2 L875 1029.2 L876 1036.0 L877 1043.9 L878 1038.3 L879 1044.2 L880 1036.9 L881 1045.9 L882 1043.0 L883 1051.8 L884 1040.4 L885 1045.2 L886 1052.0 L887 1047.4 L888 1049.4 L889 1048.2 L890 1045.0 L891 1049.4 L892 1060.1 L893 1058.9 L894 1050.4 L895 1057.9 L896 1060.7 L897 1060.7 L898 1045.2 L899 1047.5 L900 1063.2 L901 1049.7 L902 1059.2 L903 1056.1 L904 1060.4 L905 1045.8 L906 1061.1 L907 1059.9 L908 1048.8 L909 1057.0 L910 1045.1 L911 1060.0 L912 1052.6 L913 1058.4 L914 1059.7 L915 1046.9 L916 1061.8 L917 1048.6 L918 1049.7 L919 1054.9 L920 1051.4 L921 1057.8 L922 1049.5 L923 1055.7 L924 1057.0 L925 1059.2 L926 1048.8 L927 1045.7 L928 1049.9 L929 1050.7 L930 1056.0 L931 1048.8 L932 1045.5 L933 1042.3 L934 1052.2 L935 1050.3 L936 1037.3 L937 1042.7 L938 1039.8 L939 1047.6 L940 1045.2 L941 1040.1 L942 1049.1 L943 1052.3 L944 1045.2 L945 1056.9 L946 1040.8 L947 1040.6 L948 1055.5 L949 1053.0 L950 1057.7 L951 1062.3 L952 1054.0 L953 1061.2 L954 1058.3 L955 1056.1 L956 1056.5 L957 1067.4 L958 1054.7 L959 1057.1 L960 1058.9 L961 1063.3 L962 1051.3 L963 1065.0 L964 1051.4 L965 1059.6 L966 1061.4 L967 1064.4 L968 1064.3 L969 1064.6 L970 1052.1 L971 1058.0 L972 1065.3 L973 1058.7 L974 1065.3 L975 1059.8 L976 1059.7 L977 1061.0 L978 1065.2 L979 1051.0 L980 1053.1 L981 1053.7 L982 1056.6 L983 1055.7 L984 1069.1 L985 1060.3 L986 1065.9 L987 1073.0 L988 1068.6 L989 1065.8 L990 1067.0 L991 1069.6 L992 1067.6 L993 1071.1 L994 1070.0 L995 1063.2 L996 1080.1 L997 1082.2 L998 1073.8 L999 1064.1 L1000 1081.3 L1001 1070.2 L1002 1070.9 L1003 1068.8 L1004 1082.9 L1005 1078.8 L1006 1071.9 L1007 1074.2 L1008 1076.3 L1009 1076.5 L1010 1083.6 L1011 1090.7 L1012 1072.0 L1013 1091.2 L1014 1092.5 L1015 1078.1 L1016 1096.6 L1017 1094.6 L1018 1091.6 L1019 1079.4 L1020 1087.1 L1021 1093.4 L1022 1090.3 L1023 1083.3 L1024 1094.4 L1025 1090.4 L1026 1089.4 L1027 1091.7 L1028 1089.9 L1029 1094.4 L1030 1091.2 L1031 1106.6 L1032 1095.1 L1033 1099.6 L1034 1099.8 L1035 1104.1 L1036 1101.6 L1037 1118.1 L1038 1096.5 L1039 1122.4 L1040 1103.2 L1041 1120.6 L1042 1101.6 L1043 1095.0 L1044 1114.3 L1045 1097.7 L1046 1111.1 L1047 1113.5 L1048 1099.9 L1049 1102.1 L1050 1106.5 L1051 1111.8 L1052 1111.8 L1053 1106.5 L1054 1108.6 L1055 1113.0 L1056 1104.1 L1057 1116.8 L1058 1116.7 L1059 1107.4 L1060 1114.3 L1061 1116.4 L1062 1115.0 L1063 1105.0 L1064 1104.7 L1065 1107.3 L1066 1105.0 L1067 1111.2 L1068 1115.2 L1069 1112.2 L1070 1117.6 L1071 1110.3 L1072 1109.4 L1073 1103.8 L1074 1118.0 L1075 1113.4 L1076 1118.8 L1077 1118.5 L1078 1105.8 L1079 1114.6 L1080 1113.7 L1081 1118.6 L1082 1108.5 L1083 1118.7 L1084 1118.6 L1085 1115.2 L1086 1111.2 L1087 1121.1 L1088 1109.8 L1089 1115.3 L1090 1109.3 L1091 1114.9 L1092 1113.8 L1093 1121.8 L1094 1123.5 L1095 1124.3 L1096 1117.5 L1097 1125.7 L1098 1123.4 L1099 1120.4 L1100 1126.0 L1101 1130.4 L1102 1118.9 L1103 1129.7 L1104 1121.9 L1105 1116.5 L1106 1118.4 L1107 1122.1 L1108 1114.7 L1109 1127.4 L1110 1115.9 L1111 1120.7 L1112 1125.4 L1113 1124.4 L1114 1120.6 L1115 1121.2 L1116 1121.8 L1117 1117.6 L1118 1113.8 L1119 1124.5 L1120 1106.8 L1121 1106.0 L1122 1110.6 L1123 1109.1 L1124 1127.1 L1125 1117.3 L1126 1126.2 L1127 1119.3 L1128 1112.1 L1129 1128.6 L1130 1129.6 L1131 1110.8 L1132 1127.8 L1133 1122.7 L1134 1111.8 L1135 1116.0 L1136 1127.1 L1137 1111.0 L1138 1123.0 L1139 1120.5 L1140 1120.2 L1141 1109.0 L1142 1129.2 L1143 1119.9 L1144 1124.8 L1145 1122.8 L1146 1112.4 L1147 1126.5 L1148 1115.0 L1149 1132.8 L1150 1117.1 L1151 1108.2" stroke="#000000" stroke-width="10.5"/>
<path d="M141 1591.7 L142 1579.7 L143 1590.6 L144 1569.8 L145 1578.0 L146 1572.2 L147 1575.6 L148 1565.4 L149 1572.5 L150 1567.7 L151 1572.3 L152 1565.5 L153 1564.1 L154 1570.2 L155 1573.9 L156 1561.3 L157 1573.8 L158 1573.1 L159 1556.2 L160 1566.0 L161 1568.3 L162 1573.3 L163 1568.8 L164 1560.4 L165 1567.7 L166 1568.5 L167 1569.4 L168 1577.3 L169 1567.7 L170 1565.8 L171 1570.9 L172 1573.1 L173 1578.1 L174 1572.4 L175 1567.4 L176 1578.2 L177 1571.3 L178 1574.3 L179 1571.2 L180 1567.2 L181 1575.0 L182 1576.4 L183 1566.9 L184 1571.5 L185 1569.9 L186 1566.7 L187 1567.5 L188 1580.3 L189 1578.9 L190 1570.3 L191 1576.4 L192 1564.4 L193 1579.5 L194 1572.9 L195 1577.8 L196 1568.4 L197 1570.2 L198 1569.7 L199 1580.5 L200 1571.4 L201 1572.8 L202 1580.8 L203 1580.1 L204 1572.0 L205 1571.0 L206 1579.3 L207 1568.9 L208 1574.1 L209 1582.2 L210 1584.0 L211 1574.8 L212 1573.2 L213 1586.0 L214 1584.0 L215 1577.6 L216 1582.5 L217 1575.7 L218 1581.4 L219 1576.7 L220 1575.3 L221 1566.7 L222 1569.6 L223 1565.2 L224 1565.9 L225 1562.6 L226 1567.0 L227 1565.4 L228 1566.1 L229 1553.6 L230 1556.5 L231 1552.2 L232 1559.0 L233 1560.8 L234 1551.9 L235 1563.5 L236 1558.9 L237 1558.5 L238 1559.7 L239 1565.3 L240 1558.4 L241 1549.6 L242 1550.8 L243 1559.7 L244 1554.3 L245 1561.7 L246 1558.6 L247 1557.2 L248 1563.3 L249 1554.8 L250 1556.0 L251 1555.3 L252 1555.9 L253 1561.9 L254 1559.0 L255 1558.0 L256 1554.0 L257 1541.9 L258 1546.0 L259 1549.5 L260 1557.0 L261 1545.2 L262 1548.6 L263 1554.7 L264 1542.8 L265 1551.5 L266 1547.4 L267 1545.2 L268 1546.7 L269 1543.0 L270 1535.1 L271 1549.4 L272 1550.0 L273 1546.9 L274 1538.4 L275 1542.8 L276 1545.0 L277 1533.9 L278 1545.5 L279 1534.7 L280 1548.2 L281 1537.8 L282 1548.9 L283 1538.6 L284 1543.4 L285 1548.3 L286 1552.9 L287 1550.6 L288 1555.7 L289 1546.5 L290 1555.1 L291 1545.6 L292 1553.7 L293 1548.2 L294 1540.1 L295 1543.1 L296 1531.9 L297 1541.2 L298 1536.9 L299 1531.2 L300 1533.7 L301 1533.5 L302 1530.2 L303 1529.6 L304 1523.8 L305 1518.3 L306 1513.4 L307 1508.4 L308 1504.0 L309 1499.4 L310 1493.8 L311 1486.9 L312 1480.4 L313 1473.9 L314 1466.6 L315 1458.9 L316 1453.0 L317 1445.3 L318 1440.3 L319 1435.0 L320 1428.1 L321 1423.4 L322 1415.8 L323 1412.8 L324 1405.5 L325 1402.2 L326 1395.7 L327 1391.1 L328 1385.6 L329 1380.6 L330 1378.6 L331 1374.3 L332 1367.7 L333 1366.1 L334 1360.3 L335 1360.7 L336 1352.2 L337 1353.9 L338 1356.0 L339 1350.2 L340 1351.4 L341 1354.2 L342 1352.0 L343 1355.0 L344 1341.6 L345 1356.6 L346 1349.8 L347 1356.8 L348 1355.1 L349 1356.9 L350 1360.0 L351 1357.4 L352 1363.6 L353 1365.9 L354 1373.6 L355 1381.5 L356 1389.6 L357 1392.5 L358 1397.8 L359 1398.5 L360 1402.4 L361 1407.2 L362 1408.3 L363 1414.2 L364 1416.0 L365 1422.4 L366 1425.9 L367 1431.0 L368 1432.7 L369 1433.2 L370 1437.3 L371 1442.8 L372 1445.5 L373 1443.2 L374 1446.0 L375 1448.5 L376 1454.9 L377 1451.0 L378 1459.4 L379 1453.9 L380 1464.4 L381 1453.2 L382 1468.4 L383 1455.8 L384 1449.3 L385 1452.5 L386 1468.3 L387 1453.4 L388 1455.6 L389 1474.0 L390 1460.0 L391 1465.6 L392 1463.1 L393 1461.1 L394 1470.9 L395 1450.7 L396 1458.1 L397 1459.1 L398 1462.4 L399 1461.8 L400 1451.3 L401 1450.5 L402 1449.0 L403 1446.5 L404 1446.8 L405 1443.9 L406 1442.7 L407 1435.8 L408 1433.3 L409 1428.2 L410 1433.0 L411 1431.2 L412 1430.2 L413 1426.0 L414 1426.5 L415 1420.7 L416 1423.5 L417 1414.0 L418 1420.4 L419 1419.7 L420 1416.5 L421 1419.6 L422 1415.9 L423 1408.6 L424 1405.2 L425 1406.8 L426 1403.2 L427 1406.3 L428 1400.1 L429 1398.2 L430 1396.3 L431 1392.4 L432 1390.1 L433 1385.4 L434 1383.9 L435 1382.0 L436 1376.0 L437 1373.8 L438 1371.0 L439 1363.9 L440 1359.0 L441 1355.8 L442 1352.3 L443 1346.3 L444 1340.3 L445 1336.7 L446 1329.2 L447 1323.0 L448 1316.1 L449 1311.9 L450 1309.5 L451 1303.5 L452 1301.3 L453 1298.5 L454 1290.8 L455 1290.8 L456 1284.7 L457 1282.9 L458 1280.8 L459 1274.7 L460 1272.5 L461 1266.8 L462 1264.2 L463 1260.7 L464 1255.9 L465 1250.8 L466 1247.8 L467 1241.0 L468 1236.6 L469 1232.8 L470 1226.7 L471 1220.4 L472 1217.4 L473 1213.7 L474 1206.9 L475 1205.2 L476 1197.9 L477 1196.7 L478 1191.1 L479 1185.2 L480 1179.6 L481 1174.4 L482 1168.3 L483 1162.5 L484 1157.0 L485 1150.8 L486 1146.9 L487 1142.4 L488 1141.1 L489 1134.8 L490 1133.0 L491 1126.9 L492 1124.8 L493 1119.4 L494 1114.6 L495 1110.1 L496 1103.3 L497 1099.5 L498 1095.6 L499 1091.0 L500 1086.9 L501 1084.3 L502 1082.3 L503 1075.4 L504 1076.4 L505 1070.7 L506 1067.9 L507 1059.3 L508 1053.4 L509 1048.1 L510 1043.4 L511 1040.8 L512 1034.6 L513 1030.7 L514 1029.7 L515 1024.0 L516 1025.6 L517 1018.6 L518 1014.4 L519 1014.9 L520 1009.6 L521 1009.2 L522 1001.9 L523 999.0 L524 994.3 L525 988.6 L526 981.7 L527 977.7 L528 971.1 L529 965.9 L530 965.6 L531 958.6 L532 953.5 L533 949.5 L534 956.4 L535 956.0 L536 954.0 L537 954.4 L538 944.8 L539 949.3 L540 950.7 L541 941.7 L542 947.1 L543 945.9 L544 940.0 L545 939.5 L546 929.5 L547 932.3 L548 929.8 L549 928.4 L550 936.2 L551 936.0 L552 916.1 L553 927.3 L554 917.3 L555 929.3 L556 937.3 L557 920.7 L558 927.5 L559 928.1 L560 936.8 L561 939.9 L562 923.7 L563 927.5 L564 931.6 L565 945.6 L566 941.4 L567 938.7 L568 946.8 L569 934.8 L570 944.3 L571 933.7 L572 935.1 L573 948.8 L574 947.8 L575 945.2 L576 938.2 L577 942.3 L578 953.7 L579 947.4 L580 942.5 L581 947.1 L582 953.7 L583 958.6 L584 955.1 L585 954.7 L586 961.8 L587 959.9 L588 962.3 L589 967.8 L590 971.8 L591 978.3 L592 980.5 L593 985.1 L594 987.0 L595 991.1 L596 995.3 L597 991.6 L598 1000.2 L599 1002.5 L600 1000.6 L601 1000.5 L602 1006.7 L603 1011.1 L604 1010.6 L605 1013.4 L606 1017.6 L607 1024.0 L608 1025.1 L609 1028.8 L610 1031.2 L611 1035.0 L612 1037.0 L613 1040.7 L614 1042.0 L615 1050.1 L616 1049.1 L617 1055.8 L618 1058.1 L619 1061.9 L620 1063.9 L621 1067.2 L622 1069.4 L623 1071.5 L624 1077.6 L625 1081.1 L626 1083.8 L627 1090.0 L628 1094.1 L629 1096.5 L630 1101.3 L631 1105.3 L632 1111.5 L633 1115.2 L634 1121.0 L635 1128.4 L636 1132.6 L637 1140.2 L638 1144.9 L639 1148.9 L640 1155.1 L641 1158.9 L642 1163.7 L643 1166.8 L644 1170.9 L645 1174.8 L646 1179.6 L647 1185.7 L648 1190.6 L649 1194.8 L650 1200.2 L651 1205.9 L652 1209.1 L653 1213.2 L654 1219.5 L655 1221.5 L656 1226.6 L657 1232.3 L658 1233.2 L659 1238.2 L660 1241.5 L661 1247.7 L662 1250.7 L663 1253.2 L664 1259.6 L665 1264.2 L666 1267.7 L667 1269.4 L668 1276.1 L669 1278.6 L670 1281.1 L671 1283.6 L672 1288.9 L673 1290.7 L674 1294.6 L675 1300.3 L676 1304.4 L677 1307.8 L678 1311.3 L679 1316.9 L680 1321.1 L681 1322.4 L682 1328.8 L683 1332.9 L684 1335.7 L685 1338.6 L686 1343.8 L687 1344.0 L688 1352.1 L689 1353.2 L690 1356.2 L691 1359.0 L692 1358.1 L693 1356.3 L694 1355.7 L695 1354.5 L696 1352.1 L697 1367.2 L698 1369.7 L699 1365.1 L700 1358.7 L701 1361.0 L702 1368.7 L703 1363.6 L704 1362.8 L705 1369.8 L706 1362.3 L707 1360.5 L708 1365.8 L709 1373.9 L710 1376.1 L711 1366.3 L712 1375.0 L713 1367.5 L714 1376.0 L715 1370.8 L716 1373.5 L717 1382.1 L718 1375.3 L719 1381.8 L720 1381.0 L721 1390.7 L722 1389.2 L723 1384.5 L724 1395.1 L725 1392.2 L726 1387.0 L727 1389.9 L728 1399.0 L729 1402.5 L730 1387.7 L731 1397.1 L732 1390.7 L733 1399.8 L734 1387.6 L735 1400.5 L736 1397.1 L737 1398.8 L738 1396.3 L739 1399.5 L740 1402.1 L741 1390.2 L742 1394.6 L743 1392.5 L744 1396.7 L745 1399.2 L746 1396.3 L747 1402.4 L748 1390.6 L749 1393.2 L750 1393.1 L751 1392.7 L752 1400.9 L753 1402.7 L754 1398.2 L755 1404.5 L756 1399.5 L757 1404.0 L758 1395.1 L759 1401.0 L760 1396.0 L761 1410.0 L762 1408.7 L763 1413.2 L764 1414.2 L765 1407.6 L766 1399.1 L767 1402.8 L768 1410.7 L769 1412.1 L770 1412.8 L771 1398.4 L772 1399.2 L773 1413.0 L774 1398.7 L775 1407.9 L776 1406.3 L777 1413.6 L778 1399.6 L779 1411.4 L780 1404.3 L781 1409.7 L782 1402.5 L783 1409.4 L784 1411.9 L785 1412.8 L786 1415.3 L787 1416.1 L788 1417.6 L789 1421.2 L790 1418.2 L791 1425.2 L792 1421.3 L793 1426.0 L794 1427.1 L795 1424.4 L796 1426.7 L797 1433.4 L798 1433.5 L799 1433.0 L800 1436.0 L801 1434.5 L802 1436.6 L803 1437.5 L804 1441.9 L805 1437.3 L806 1445.8 L807 1439.5 L808 1444.1 L809 1452.7 L810 1445.4 L811 1448.1 L812 1446.2 L813 1456.9 L814 1447.5 L815 1451.6 L816 1451.4 L817 1449.7 L818 1456.3 L819 1453.4 L820 1464.8 L821 1456.4 L822 1462.0 L823 1449.5 L824 1465.2 L825 1461.2 L826 1456.6 L827 1461.5 L828 1453.3 L829 1456.4 L830 1465.5 L831 1462.6 L832 1469.0 L833 1467.3 L834 1471.0 L835 1470.8 L836 1463.5 L837 1472.9 L838 1472.4 L839 1468.3 L840 1469.3 L841 1472.3 L842 1478.6 L843 1475.9 L844 1478.9 L845 1480.2 L846 1483.2 L847 1483.1 L848 1481.0 L849 1492.3 L850 1489.5 L851 1483.9 L852 1486.7 L853 1498.4 L854 1499.5 L855 1493.1 L856 1491.2 L857 1492.9 L858 1491.6 L859 1494.7 L860 1497.0 L861 1490.1 L862 1502.9 L863 1492.4 L864 1491.2 L865 1499.5 L866 1496.3 L867 1502.6 L868 1495.1 L869 1501.0 L870 1495.6 L871 1506.3 L872 1498.3 L873 1509.3 L874 1498.9 L875 1505.0 L876 1503.0 L877 1512.6 L878 1502.7 L879 1507.3 L880 1513.6 L881 1498.3 L882 1506.5 L883 1514.5 L884 1501.7 L885 1498.7 L886 1508.6 L887 1513.5 L888 1514.9 L889 1506.5 L890 1500.2 L891 1496.1 L892 1504.3 L893 1498.9 L894 1508.7 L895 1511.1 L896 1511.3 L897 1501.3 L898 1518.8 L899 1514.9 L900 1512.3 L901 1516.5 L902 1520.2 L903 1506.1 L904 1516.8 L905 1507.7 L906 1507.0 L907 1521.6 L908 1499.7 L909 1508.7 L910 1516.4 L911 1511.9 L912 1504.7 L913 1515.3 L914 1499.5 L915 1507.4 L916 1506.8 L917 1496.5 L918 1497.0 L919 1516.3 L920 1494.6 L921 1518.9 L922 1500.6 L923 1517.4 L924 1509.9 L925 1503.4 L926 1511.6 L927 1493.1 L928 1502.5 L929 1505.3 L930 1504.5 L931 1495.1 L932 1489.7 L933 1507.5 L934 1507.3 L935 1494.7 L936 1506.5 L937 1490.8 L938 1493.9 L939 1511.5 L940 1489.6 L941 1502.5 L942 1506.8 L943 1509.3 L944 1513.1 L945 1489.2 L946 1508.3 L947 1507.1 L948 1503.3 L949 1496.9 L950 1514.8 L951 1500.7 L952 1510.7 L953 1500.4 L954 1504.2 L955 1521.6 L956 1497.1 L957 1517.1 L958 1493.3 L959 1520.1 L960 1510.5 L961 1502.2 L962 1514.8 L963 1513.3 L964 1518.5 L965 1511.9 L966 1513.6 L967 1505.6 L968 1514.8 L969 1514.3 L970 1510.3 L971 1507.7 L972 1519.0 L973 1513.0 L974 1518.1 L975 1510.3 L976 1513.9 L977 1513.2 L978 1521.6 L979 1517.5 L980 1525.4 L981 1518.6 L982 1518.9 L983 1519.6 L984 1518.3 L985 1526.6 L986 1525.7 L987 1536.4 L988 1522.2 L989 1516.6 L990 1536.8 L991 1539.2 L992 1528.8 L993 1516.3 L994 1528.3 L995 1520.6 L996 1525.2 L997 1527.8 L998 1520.2 L999 1531.5 L1000 1532.4 L1001 1528.4 L1002 1526.8 L1003 1536.9 L1004 1538.9 L1005 1544.9 L1006 1539.8 L1007 1534.3 L1008 1535.2 L1009 1533.1 L1010 1535.4 L1011 1548.1 L1012 1536.1 L1013 1544.2 L1014 1540.2 L1015 1548.9 L1016 1552.1 L1017 1547.9 L1018 1550.7 L1019 1537.5 L1020 1538.6 L1021 1537.8 L1022 1541.9 L1023 1537.1 L1024 1551.6 L1025 1553.6 L1026 1551.7 L1027 1542.4 L1028 1545.4 L1029 1549.9 L1030 1544.9 L1031 1549.0 L1032 1555.5 L1033 1555.7 L1034 1556.8 L1035 1557.0 L1036 1566.2 L1037 1560.8 L1038 1563.1 L1039 1566.1 L1040 1559.2 L1041 1573.9 L1042 1562.1 L1043 1571.5 L1044 1569.4 L1045 1559.7 L1046 1557.0 L1047 1566.4 L1048 1572.2 L1049 1561.0 L1050 1573.9 L1051 1563.5 L1052 1567.4 L1053 1564.0 L1054 1565.5 L1055 1573.8 L1056 1576.4 L1057 1568.0 L1058 1578.9 L1059 1576.7 L1060 1578.4 L1061 1580.2 L1062 1580.0 L1063 1589.3 L1064 1592.0 L1065 1589.0 L1066 1593.1 L1067 1593.8 L1068 1598.1 L1069 1599.0 L1070 1608.9 L1071 1603.7 L1072 1610.0 L1073 1608.0 L1074 1592.5 L1075 1606.0 L1076 1602.4 L1077 1592.0 L1078 1601.5 L1079 1604.8 L1080 1592.5 L1081 1608.1 L1082 1608.4 L1083 1608.0 L1084 1588.1 L1085 1593.5 L1086 1588.5 L1087 1586.4 L1088 1594.9 L1089 1591.0 L1090 1595.1 L1091 1597.9 L1092 1590.9 L1093 1599.7 L1094 1601.1 L1095 1604.4 L1096 1590.7 L1097 1597.5 L1098 1608.8 L1099 1609.3 L1100 1598.7 L1101 1611.3 L1102 1613.6 L1103 1611.5 L1104 1596.7 L1105 1610.6 L1106 1594.3 L1107 1607.3 L1108 1607.6 L1109 1612.1 L1110 1601.7 L1111 1605.8 L1112 1604.2 L1113 1597.9 L1114 1604.4 L1115 1611.5 L1116 1611.5 L1117 1601.2 L1118 1598.5 L1119 1616.0 L1120 1611.9 L1121 1601.5 L1122 1611.2 L1123 1605.3 L1124 1614.4 L1125 1617.8 L1126 1609.8 L1127 1618.7 L1128 1605.5 L1129 1609.5 L1130 1612.8 L1131 1614.9 L1132 1614.6 L1133 1623.5 L1134 1610.3 L1135 1608.0 L1136 1619.4 L1137 1612.9 L1138 1612.2 L1139 1606.9 L1140 1608.7 L1141 1613.4 L1142 1598.8 L1143 1603.6 L1144 1597.6 L1145 1604.5 L1146 1596.6 L1147 1595.6 L1148 1594.7 L1149 1593.5 L1150 1603.6 L1151 1582.5" stroke="#2AAA7A" stroke-width="10.5"/>
<path d="M141 1849.2 L142 1849.2 L143 1841.3 L144 1835.1 L145 1828.8 L146 1837.5 L147 1838.0 L148 1827.5 L149 1827.3 L150 1854.5 L151 1844.4 L152 1831.8 L153 1837.7 L154 1854.3 L155 1851.7 L156 1849.8 L157 1836.7 L158 1839.7 L159 1844.7 L160 1828.7 L161 1841.6 L162 1834.7 L163 1849.1 L164 1830.4 L165 1844.2 L166 1848.2 L167 1833.3 L168 1848.0 L169 1847.0 L170 1827.0 L171 1842.6 L172 1825.6 L173 1837.4 L174 1835.8 L175 1830.1 L176 1833.1 L177 1844.7 L178 1832.9 L179 1828.8 L180 1842.1 L181 1836.1 L182 1844.4 L183 1831.1 L184 1832.9 L185 1842.8 L186 1835.7 L187 1834.8 L188 1828.4 L189 1823.0 L190 1840.9 L191 1823.0 L192 1838.5 L193 1828.5 L194 1840.9 L195 1829.2 L196 1840.6 L197 1832.5 L198 1825.8 L199 1836.4 L200 1835.0 L201 1835.1 L202 1830.5 L203 1825.5 L204 1832.4 L205 1822.3 L206 1830.2 L207 1827.6 L208 1822.6 L209 1825.9 L210 1817.5 L211 1817.5 L212 1818.6 L213 1812.6 L214 1812.1 L215 1808.4 L216 1806.6 L217 1802.8 L218 1797.5 L219 1791.5 L220 1780.6 L221 1774.2 L222 1770.4 L223 1765.5 L224 1764.2 L225 1761.7 L226 1766.4 L227 1756.0 L228 1755.8 L229 1746.1 L230 1753.6 L231 1757.6 L232 1764.2 L233 1763.4 L234 1747.6 L235 1763.5 L236 1742.5 L237 1756.7 L238 1740.2 L239 1744.8 L240 1736.4 L241 1753.1 L242 1751.7 L243 1736.0 L244 1744.3 L245 1738.6 L246 1743.7 L247 1745.1 L248 1736.1 L249 1751.8 L250 1740.5 L251 1744.2 L252 1737.6 L253 1737.6 L254 1741.7 L255 1745.1 L256 1754.8 L257 1755.3 L258 1751.6 L259 1753.1 L260 1757.2 L261 1760.9 L262 1757.0 L263 1763.8 L264 1761.5 L265 1765.6 L266 1769.2 L267 1768.3 L268 1772.3 L269 1774.0 L270 1766.0 L271 1767.7 L272 1770.4 L273 1772.7 L274 1774.1 L275 1774.1 L276 1778.2 L277 1784.8 L278 1790.7 L279 1787.6 L280 1790.1 L281 1792.4 L282 1797.8 L283 1800.7 L284 1804.9 L285 1792.1 L286 1800.3 L287 1791.3 L288 1803.6 L289 1788.5 L290 1805.0 L291 1795.8 L292 1801.4 L293 1797.3 L294 1793.4 L295 1798.4 L296 1790.4 L297 1791.5 L298 1802.8 L299 1802.6 L300 1811.4 L301 1792.9 L302 1805.4 L303 1803.8 L304 1806.1 L305 1808.9 L306 1804.0 L307 1804.7 L308 1802.9 L309 1805.5 L310 1797.6 L311 1804.0 L312 1806.9 L313 1797.7 L314 1815.0 L315 1811.2 L316 1817.0 L317 1803.6 L318 1807.8 L319 1803.6 L320 1797.8 L321 1796.6 L322 1802.4 L323 1817.8 L324 1798.5 L325 1811.2 L326 1798.1 L327 1791.3 L328 1793.6 L329 1808.9 L330 1803.0 L331 1804.9 L332 1802.7 L333 1798.8 L334 1805.9 L335 1818.2 L336 1800.6 L337 1815.3 L338 1803.1 L339 1801.8 L340 1805.1 L341 1798.5 L342 1820.8 L343 1804.9 L344 1799.4 L345 1794.3 L346 1795.2 L347 1798.3 L348 1802.5 L349 1806.1 L350 1813.9 L351 1810.4 L352 1794.2 L353 1801.4 L354 1807.9 L355 1785.9 L356 1805.3 L357 1791.8 L358 1803.2 L359 1789.3 L360 1798.8 L361 1795.7 L362 1784.8 L363 1803.8 L364 1806.1 L365 1797.1 L366 1794.9 L367 1810.3 L368 1794.8 L369 1807.5 L370 1795.2 L371 1793.5 L372 1792.5 L373 1784.8 L374 1788.9 L375 1787.1 L376 1782.6 L377 1793.2 L378 1790.7 L379 1780.9 L380 1783.8 L381 1801.0 L382 1783.1 L383 1788.4 L384 1801.1 L385 1782.6 L386 1789.1 L387 1797.4 L388 1781.2 L389 1782.7 L390 1800.8 L391 1796.4 L392 1788.7 L393 1793.6 L394 1789.9 L395 1802.9 L396 1804.5 L397 1787.9 L398 1797.5 L399 1791.0 L400 1796.3 L401 1804.5 L402 1804.6 L403 1792.4 L404 1796.0 L405 1798.5 L406 1797.4 L407 1805.5 L408 1808.6 L409 1795.8 L410 1798.8 L411 1787.8 L412 1796.5 L413 1814.0 L414 1800.6 L415 1802.3 L416 1803.6 L417 1802.2 L418 1808.7 L419 1793.2 L420 1794.6 L421 1809.2 L422 1798.8 L423 1809.8 L424 1789.7 L425 1804.7 L426 1797.1 L427 1796.8 L428 1806.6 L429 1787.6 L430 1797.0 L431 1789.9 L432 1792.0 L433 1804.3 L434 1793.0 L435 1803.1 L436 1782.4 L437 1808.6 L438 1807.2 L439 1799.7 L440 1786.7 L441 1798.9 L442 1786.3 L443 1791.2 L444 1782.2 L445 1783.3 L446 1785.7 L447 1786.4 L448 1803.2 L449 1788.2 L450 1802.7 L451 1782.5 L452 1783.9 L453 1784.1 L454 1804.6 L455 1801.6 L456 1782.9 L457 1803.3 L458 1787.1 L459 1787.7 L460 1794.4 L461 1786.0 L462 1802.5 L463 1789.5 L464 1794.1 L465 1794.4 L466 1788.3 L467 1798.8 L468 1805.1 L469 1796.4 L470 1784.6 L471 1802.0 L472 1798.6 L473 1794.2 L474 1797.9 L475 1787.6 L476 1788.1 L477 1792.9 L478 1780.6 L479 1793.8 L480 1782.2 L481 1783.6 L482 1801.9 L483 1792.6 L484 1782.3 L485 1795.4 L486 1804.2 L487 1801.1 L488 1798.0 L489 1783.6 L490 1791.3 L491 1791.3 L492 1776.0 L493 1794.6 L494 1789.4 L495 1789.5 L496 1796.0 L497 1776.3 L498 1780.5 L499 1803.5 L500 1783.4 L501 1782.4 L502 1777.6 L503 1784.9 L504 1792.3 L505 1778.9 L506 1786.2 L507 1786.0 L508 1783.9 L509 1800.7 L510 1805.6 L511 1805.1 L512 1792.6 L513 1782.1 L514 1790.4 L515 1795.9 L516 1791.7 L517 1803.1 L518 1803.8 L519 1808.9 L520 1794.6 L521 1787.6 L522 1804.7 L523 1802.1 L524 1783.6 L525 1784.5 L526 1792.2 L527 1793.9 L528 1795.3 L529 1777.0 L530 1779.0 L531 1782.5 L532 1784.2 L533 1788.3 L534 1782.7 L535 1781.1 L536 1773.8 L537 1783.3 L538 1781.3 L539 1790.4 L540 1770.6 L541 1768.7 L542 1774.5 L543 1773.6 L544 1776.7 L545 1769.4 L546 1782.8 L547 1785.5 L548 1764.8 L549 1787.2 L550 1766.3 L551 1771.4 L552 1775.6 L553 1773.7 L554 1768.1 L555 1781.0 L556 1783.7 L557 1768.1 L558 1766.7 L559 1776.2 L560 1767.4 L561 1788.4 L562 1787.2 L563 1787.8 L564 1777.1 L565 1788.5 L566 1777.1 L567 1779.1 L568 1768.5 L569 1766.7 L570 1784.0 L571 1770.8 L572 1789.4 L573 1779.0 L574 1778.6 L575 1784.9 L576 1771.3 L577 1764.6 L578 1768.4 L579 1772.7 L580 1765.7 L581 1767.7 L582 1776.3 L583 1768.3 L584 1766.9 L585 1764.1 L586 1769.5 L587 1778.5 L588 1760.8 L589 1774.3 L590 1772.3 L591 1768.1 L592 1766.4 L593 1765.5 L594 1756.0 L595 1766.0 L596 1775.4 L597 1769.4 L598 1763.1 L599 1762.4 L600 1772.6 L601 1751.5 L602 1756.0 L603 1774.7 L604 1767.0 L605 1771.1 L606 1763.6 L607 1752.0 L608 1763.1 L609 1764.9 L610 1753.5 L611 1761.4 L612 1769.9 L613 1753.8 L614 1753.8 L615 1755.1 L616 1765.4 L617 1769.5 L618 1758.7 L619 1770.6 L620 1762.1 L621 1768.1 L622 1772.9 L623 1763.3 L624 1770.1 L625 1777.7 L626 1769.7 L627 1778.5 L628 1773.1 L629 1783.1 L630 1773.8 L631 1782.6 L632 1769.3 L633 1775.1 L634 1772.2 L635 1778.4 L636 1779.4 L637 1776.2 L638 1781.2 L639 1788.6 L640 1785.8 L641 1778.0 L642 1784.6 L643 1781.6 L644 1775.0 L645 1772.8 L646 1767.1 L647 1774.0 L648 1766.7 L649 1764.5 L650 1774.5 L651 1762.4 L652 1759.2 L653 1762.2 L654 1764.7 L655 1766.7 L656 1761.4 L657 1768.2 L658 1753.6 L659 1774.6 L660 1765.7 L661 1766.7 L662 1767.9 L663 1765.2 L664 1778.9 L665 1770.7 L666 1761.3 L667 1768.0 L668 1770.9 L669 1767.3 L670 1761.0 L671 1776.4 L672 1760.4 L673 1771.0 L674 1764.1 L675 1765.0 L676 1768.5 L677 1754.1 L678 1764.1 L679 1763.1 L680 1762.2 L681 1751.3 L682 1751.1 L683 1763.3 L684 1762.3 L685 1759.3 L686 1754.1 L687 1760.6 L688 1768.0 L689 1771.2 L690 1770.0 L691 1755.6 L692 1762.6 L693 1765.7 L694 1771.6 L695 1768.1 L696 1772.5 L697 1771.4 L698 1763.2 L699 1777.1 L700 1772.1 L701 1773.7 L702 1770.7 L703 1780.4 L704 1783.4 L705 1776.6 L706 1780.1 L707 1774.8 L708 1786.9 L709 1785.7 L710 1778.6 L711 1791.0 L712 1785.7 L713 1794.6 L714 1792.8 L715 1776.3 L716 1779.5 L717 1794.1 L718 1774.6 L719 1776.8 L720 1794.3 L721 1791.2 L722 1778.7 L723 1780.1 L724 1773.5 L725 1775.1 L726 1772.6 L727 1783.6 L728 1783.7 L729 1774.5 L730 1787.0 L731 1780.4 L732 1782.2 L733 1783.2 L734 1775.5 L735 1785.9 L736 1779.8 L737 1781.6 L738 1776.1 L739 1778.5 L740 1782.0 L741 1786.4 L742 1782.0 L743 1783.6 L744 1786.7 L745 1780.2 L746 1772.8 L747 1782.6 L748 1789.9 L749 1772.0 L750 1780.6 L751 1784.5 L752 1781.8 L753 1775.8 L754 1783.4 L755 1777.0 L756 1777.6 L757 1782.3 L758 1780.2 L759 1785.4 L760 1792.2 L761 1781.7 L762 1793.2 L763 1784.3 L764 1791.4 L765 1787.5 L766 1791.5 L767 1793.6 L768 1794.3 L769 1784.7 L770 1797.7 L771 1785.2 L772 1797.2 L773 1783.6 L774 1788.8 L775 1785.3 L776 1794.9 L777 1788.7 L778 1793.0 L779 1786.6 L780 1789.5 L781 1797.5 L782 1792.6 L783 1790.8 L784 1795.3 L785 1800.9 L786 1787.6 L787 1782.5 L788 1785.2 L789 1783.1 L790 1789.2 L791 1797.2 L792 1798.4 L793 1786.6 L794 1789.2 L795 1794.3 L796 1804.9 L797 1798.5 L798 1799.8 L799 1794.5 L800 1799.8 L801 1800.6 L802 1794.8 L803 1799.9 L804 1802.8 L805 1794.5 L806 1796.5 L807 1790.1 L808 1792.7 L809 1788.6 L810 1789.0 L811 1789.7 L812 1805.2 L813 1802.2 L814 1799.5 L815 1803.7 L816 1792.8 L817 1796.6 L818 1801.5 L819 1807.2 L820 1802.3 L821 1795.5 L822 1794.6 L823 1795.1 L824 1809.0 L825 1812.2 L826 1799.4 L827 1812.0 L828 1799.0 L829 1813.6 L830 1811.7 L831 1808.0 L832 1808.4 L833 1804.1 L834 1817.3 L835 1805.5 L836 1805.6 L837 1815.2 L838 1811.6 L839 1810.4 L840 1810.9 L841 1802.5 L842 1801.7 L843 1814.8 L844 1809.5 L845 1807.4 L846 1806.1 L847 1801.2 L848 1801.1 L849 1808.3 L850 1803.0 L851 1805.3 L852 1810.8 L853 1815.5 L854 1821.6 L855 1815.9 L856 1814.3 L857 1824.3 L858 1815.1 L859 1818.2 L860 1818.5 L861 1814.0 L862 1815.9 L863 1816.3 L864 1824.5 L865 1823.0 L866 1827.6 L867 1828.3 L868 1831.0 L869 1836.4 L870 1833.6 L871 1831.0 L872 1838.3 L873 1830.4 L874 1837.2 L875 1835.5 L876 1836.6 L877 1840.9 L878 1842.5 L879 1844.3 L880 1842.5 L881 1843.6 L882 1845.7 L883 1839.6 L884 1839.7 L885 1836.2 L886 1842.0 L887 1836.9 L888 1838.7 L889 1841.2 L890 1840.8 L891 1845.9 L892 1840.8 L893 1844.6 L894 1832.3 L895 1844.8 L896 1845.7 L897 1831.5 L898 1838.5 L899 1844.7 L900 1835.2 L901 1849.5 L902 1853.8 L903 1850.6 L904 1847.6 L905 1851.6 L906 1855.3 L907 1856.1 L908 1844.1 L909 1851.0 L910 1840.9 L911 1857.5 L912 1841.0 L913 1846.0 L914 1853.7 L915 1844.3 L916 1850.0 L917 1848.4 L918 1856.9 L919 1853.1 L920 1861.0 L921 1855.8 L922 1858.0 L923 1842.0 L924 1856.7 L925 1861.3 L926 1845.0 L927 1857.7 L928 1857.2 L929 1844.0 L930 1853.2 L931 1847.7 L932 1848.3 L933 1859.1 L934 1850.9 L935 1848.6 L936 1854.9 L937 1845.7 L938 1839.0 L939 1859.6 L940 1839.0 L941 1857.7 L942 1859.6 L943 1847.6 L944 1840.0 L945 1848.3 L946 1850.7 L947 1856.2 L948 1860.7 L949 1846.5 L950 1843.4 L951 1862.8 L952 1844.7 L953 1865.1 L954 1865.0 L955 1866.4 L956 1855.8 L957 1851.1 L958 1860.9 L959 1857.0 L960 1863.9 L961 1851.6 L962 1858.4 L963 1868.8 L964 1861.2 L965 1868.9 L966 1864.9 L967 1850.7 L968 1862.5 L969 1851.6 L970 1848.9 L971 1861.3 L972 1847.1 L973 1848.0 L974 1856.1 L975 1851.0 L976 1863.0 L977 1853.4 L978 1852.5 L979 1860.5 L980 1860.0 L981 1868.6 L982 1868.1 L983 1871.3 L984 1849.8 L985 1848.7 L986 1867.4 L987 1858.5 L988 1849.5 L989 1862.5 L990 1857.0 L991 1854.2 L992 1866.0 L993 1867.5 L994 1855.6 L995 1865.2 L996 1854.8 L997 1869.7 L998 1858.7 L999 1860.3 L1000 1853.9 L1001 1860.7 L1002 1857.1 L1003 1869.1 L1004 1854.8 L1005 1864.7 L1006 1861.9 L1007 1874.9 L1008 1868.1 L1009 1865.1 L1010 1855.0 L1011 1853.1 L1012 1862.1 L1013 1867.4 L1014 1848.6 L1015 1855.1 L1016 1853.7 L1017 1845.6 L1018 1859.7 L1019 1856.1 L1020 1856.7 L1021 1864.3 L1022 1860.1 L1023 1852.8 L1024 1866.5 L1025 1866.1 L1026 1862.9 L1027 1854.1 L1028 1864.5 L1029 1853.9 L1030 1860.3 L1031 1864.3 L1032 1865.5 L1033 1873.8 L1034 1867.4 L1035 1868.0 L1036 1862.7 L1037 1865.5 L1038 1855.4 L1039 1863.8 L1040 1861.3 L1041 1860.9 L1042 1860.5 L1043 1856.9 L1044 1847.9 L1045 1857.0 L1046 1854.4 L1047 1847.2 L1048 1838.7 L1049 1856.9 L1050 1840.0 L1051 1838.8 L1052 1848.1 L1053 1856.0 L1054 1841.2 L1055 1839.9 L1056 1855.2 L1057 1849.9 L1058 1850.3 L1059 1851.4 L1060 1856.5 L1061 1857.0 L1062 1850.2 L1063 1853.6 L1064 1864.7 L1065 1863.5 L1066 1860.0 L1067 1857.0 L1068 1866.1 L1069 1856.3 L1070 1859.3 L1071 1861.7 L1072 1865.0 L1073 1864.1 L1074 1863.8 L1075 1854.5 L1076 1857.2 L1077 1865.6 L1078 1862.3 L1079 1869.3 L1080 1852.2 L1081 1871.2 L1082 1861.3 L1083 1857.5 L1084 1854.0 L1085 1854.1 L1086 1872.7 L1087 1869.4 L1088 1873.9 L1089 1872.1 L1090 1864.7 L1091 1860.5 L1092 1867.3 L1093 1861.4 L1094 1859.8 L1095 1867.7 L1096 1868.0 L1097 1876.3 L1098 1872.7 L1099 1857.0 L1100 1860.1 L1101 1867.8 L1102 1871.1 L1103 1877.6 L1104 1868.5 L1105 1867.1 L1106 1856.7 L1107 1866.9 L1108 1877.6 L1109 1857.5 L1110 1869.3 L1111 1879.5 L1112 1879.5 L1113 1857.7 L1114 1864.4 L1115 1862.1 L1116 1878.7 L1117 1874.7 L1118 1864.1 L1119 1866.4 L1120 1872.2 L1121 1859.2 L1122 1862.0 L1123 1874.5 L1124 1864.8 L1125 1863.5 L1126 1876.9 L1127 1873.3 L1128 1876.4 L1129 1875.4 L1130 1870.4 L1131 1864.0 L1132 1875.2 L1133 1872.6 L1134 1876.9 L1135 1876.2 L1136 1879.7 L1137 1860.6 L1138 1863.5 L1139 1883.1 L1140 1877.6 L1141 1881.0 L1142 1859.9 L1143 1866.2 L1144 1849.9 L1145 1851.2 L1146 1845.8 L1147 1849.3 L1148 1851.1 L1149 1842.6 L1150 1868.0 L1151 1865.2" stroke="#404040" stroke-width="10.5"/>
</g>
<g stroke="#000" stroke-width="6.6" stroke-linecap="round" fill="none" shape-rendering="crispEdges" stroke-dasharray="26 16.5 3.7 16.45">
<line x1="342.5" y1="152.4" x2="342.5" y2="1930.75"/>
<line x1="521" y1="79.25" x2="521" y2="1920"/>
<line x1="767" y1="165" x2="767" y2="1960.75" stroke-dashoffset="44.85"/>
</g>
<g stroke="#000" fill="none">
<line x1="140" y1="25" x2="140" y2="2034" stroke-width="6"/>
<line x1="1152.5" y1="25" x2="1152.5" y2="2034" stroke-width="7"/>
<line x1="137" y1="28" x2="1156" y2="28" stroke-width="6"/>
<line x1="137" y1="2030.5" x2="1156" y2="2030.5" stroke-width="7"/>
</g>
<g stroke="#000" stroke-width="6" stroke-linecap="round"><line x1="140.0" y1="2031" x2="140.0" y2="2059"/><line x1="429.3" y1="2031" x2="429.3" y2="2059"/><line x1="718.6" y1="2031" x2="718.6" y2="2059"/><line x1="1007.9" y1="2031" x2="1007.9" y2="2059"/><line x1="284.6" y1="2031" x2="284.6" y2="2045"/><line x1="573.9" y1="2031" x2="573.9" y2="2045"/><line x1="863.2" y1="2031" x2="863.2" y2="2045"/><line x1="1152.5" y1="2031" x2="1152.5" y2="2045" stroke-width="7"/></g>
<text transform="translate(86.70,2128.40) scale(0.9550,1)" font-size="69.86" letter-spacing="-1.65">200</text>
<text transform="translate(374.17,2128.40) scale(0.9550,1)" font-size="69.86" letter-spacing="-0.90">400</text>
<text transform="translate(664.43,2128.40) scale(0.9550,1)" font-size="69.86" letter-spacing="-1.19">600</text>
<text transform="translate(953.10,2128.40) scale(0.9550,1)" font-size="69.86" letter-spacing="-1.54">800</text>
<text transform="translate(380.92,2247.40) scale(0.9550,1)" font-size="70.72" letter-spacing="-0.76">Temperature (°C)</text>
<text transform="translate(827.87,407.40) scale(0.9550,1)" font-size="70.72" letter-spacing="-1.22">Ni-Al-M3C</text>
<text transform="translate(851.97,682.40) scale(0.9550,1)" font-size="70.72" letter-spacing="-1.49">Ni-Al-M3</text>
<text transform="translate(863.97,987.40) scale(0.9550,1)" font-size="70.72" letter-spacing="-1.36">Ni-Al-M2</text>
<text transform="translate(871.97,1406.40) scale(0.9550,1)" font-size="70.72" letter-spacing="-2.66">Ni-Al-M1</text>
<text transform="translate(1067.71,1798.40) scale(0.9675,1)" font-size="70.72" letter-spacing="0.00">M</text>
<text transform="translate(296.17,177.40) scale(0.9550,1)" font-size="69.86" letter-spacing="-1.73">340</text>
<text transform="translate(773.03,122.40) scale(0.9550,1)" font-size="69.86" letter-spacing="-1.87">630</text>
<g transform="translate(74,1332) rotate(-90)" opacity="0.999"><text transform="translate(-4.08,-0.60) scale(0.9459,1)" font-size="70.72" letter-spacing="0.00">H</text><text transform="translate(46.80,27.40) scale(0.8879,1)" font-size="41.14" letter-spacing="0.00">2</text><text transform="translate(87.90,-0.60) scale(0.9550,1)" font-size="70.72" letter-spacing="0.71">consumption (a. u.)</text></g>
</svg></body></html>
